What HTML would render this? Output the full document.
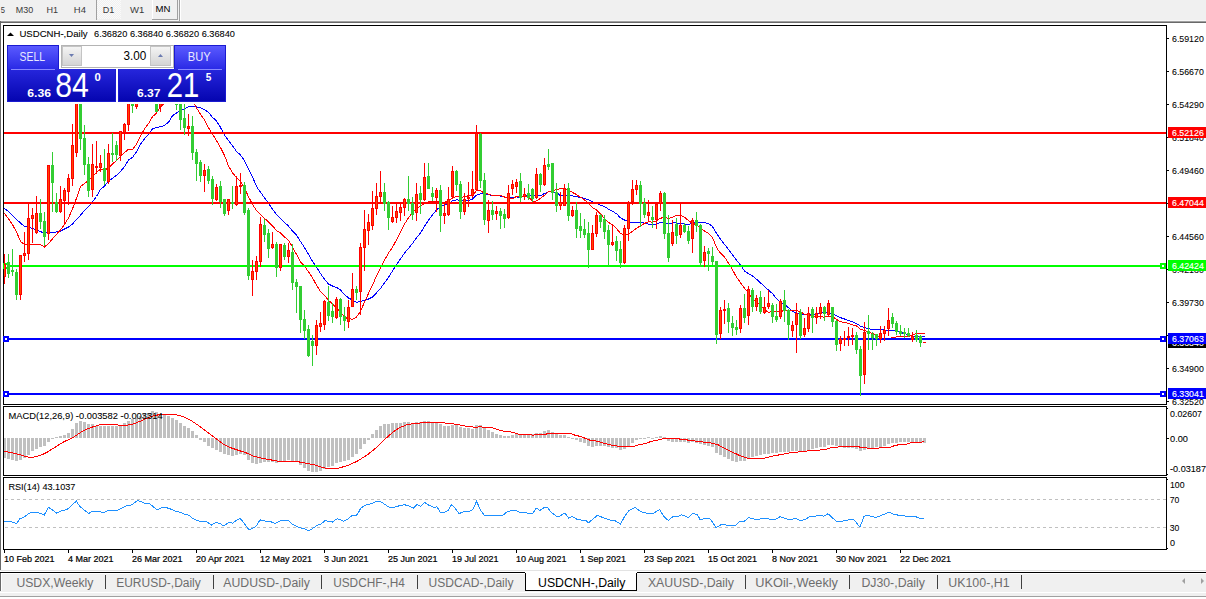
<!DOCTYPE html><html><head><meta charset="utf-8"><title>USDCNH-,Daily</title><style>html,body{margin:0;padding:0;background:#fff;width:1206px;height:599px;overflow:hidden;position:relative}</style></head><body><svg width="1206" height="599" viewBox="0 0 1206 599" style="position:absolute;left:0;top:0" font-family='"Liberation Sans", Arial, sans-serif'>
<g shape-rendering="crispEdges">
<rect x="0" y="0" width="1206" height="21" fill="#f0f0f0"/>
<rect x="0" y="20" width="1206" height="1" fill="#f7f7f7"/>
<rect x="0" y="21" width="1206" height="1" fill="#a0a0a0"/>
<rect x="0" y="22" width="1206" height="1" fill="#696969"/>
<rect x="0" y="23" width="1206" height="547" fill="#ffffff"/>
<rect x="0" y="21" width="1" height="549" fill="#696969"/>
<rect x="0" y="570" width="1206" height="1" fill="#e3e3e3"/>
<rect x="0" y="571" width="1206" height="1" fill="#ffffff"/>
<rect x="0" y="572" width="1206" height="1" fill="#000000"/>
<rect x="0" y="573" width="1206" height="19" fill="#f0f0f0"/>
<rect x="1" y="573" width="1206" height="1" fill="#ffffff"/>
<rect x="1" y="573" width="1" height="18" fill="#ffffff"/>
<rect x="0" y="573" width="1" height="18" fill="#696969"/>
<rect x="0" y="592" width="1206" height="1" fill="#ffffff"/>
<rect x="0" y="593" width="1206" height="3" fill="#f0f0f0"/>
<rect x="0" y="596" width="1206" height="1" fill="#a0a0a0"/>
<rect x="0" y="597" width="1206" height="2" fill="#ffffff"/>
</g>
<g shape-rendering="crispEdges">
<defs><pattern id="dith" width="2" height="2" patternUnits="userSpaceOnUse"><rect width="2" height="2" fill="#f0f0f0"/><rect width="1" height="1" fill="#fafafa"/><rect x="1" y="1" width="1" height="1" fill="#fafafa"/></pattern></defs>
<rect x="96" y="0" width="1" height="20" fill="#a0a0a0"/>
<rect x="97" y="0" width="24" height="19" fill="url(#dith)"/>
<rect x="152" y="0" width="1" height="19" fill="#ffffff"/>
<rect x="152" y="19" width="26" height="1" fill="#a0a0a0"/>
<rect x="177" y="0" width="1" height="20" fill="#a0a0a0"/>
<rect x="179" y="0" width="1" height="21" fill="#a0a0a0"/>
<rect x="180" y="0" width="1" height="21" fill="#ffffff"/>
</g>
<text x="0.8" y="13.1" font-size="9.6" fill="#3a3a3a" textLength="4.2" lengthAdjust="spacingAndGlyphs">5</text>
<text x="15.8" y="13.1" font-size="9.6" fill="#3a3a3a" textLength="17.4" lengthAdjust="spacingAndGlyphs">M30</text>
<text x="46.4" y="13.1" font-size="9.6" fill="#3a3a3a" textLength="11.6" lengthAdjust="spacingAndGlyphs">H1</text>
<text x="73.8" y="13.1" font-size="9.6" fill="#3a3a3a" textLength="12.1" lengthAdjust="spacingAndGlyphs">H4</text>
<text x="102.8" y="13.1" font-size="9.6" fill="#3a3a3a" textLength="11.6" lengthAdjust="spacingAndGlyphs">D1</text>
<text x="130" y="13.1" font-size="9.6" fill="#3a3a3a" textLength="14.3" lengthAdjust="spacingAndGlyphs">W1</text>
<text x="155.6" y="12" font-size="9.6" fill="#000" textLength="14.9" lengthAdjust="spacingAndGlyphs">MN</text>
<g shape-rendering="crispEdges">
<rect x="3" y="25" width="1164" height="1" fill="#000"/>
<rect x="3" y="25" width="1" height="380" fill="#000"/>
<rect x="1166" y="25" width="1" height="380" fill="#000"/>
<rect x="3" y="404" width="1164" height="1" fill="#000"/>
<rect x="3" y="406" width="1164" height="1" fill="#000"/>
<rect x="3" y="406" width="1" height="70" fill="#000"/>
<rect x="1166" y="406" width="1" height="70" fill="#000"/>
<rect x="3" y="475" width="1164" height="1" fill="#000"/>
<rect x="3" y="477" width="1164" height="1" fill="#000"/>
<rect x="3" y="477" width="1" height="73" fill="#000"/>
<rect x="1166" y="477" width="1" height="73" fill="#000"/>
<rect x="3" y="549" width="1164" height="1" fill="#000"/>
</g>
<defs><clipPath id="cm"><rect x="4" y="26" width="1162" height="378"/></clipPath><clipPath id="cmacd"><rect x="4" y="407" width="1162" height="68"/></clipPath><clipPath id="crsi"><rect x="4" y="478" width="1162" height="71"/></clipPath></defs>
<g clip-path="url(#cm)" fill="none" stroke-width="1" shape-rendering="crispEdges">
<polyline points="4.5,208.5 8.5,211.5 12.5,215.2 16.5,219.5 20.5,223.0 24.5,226.5 28.5,227.2 32.5,228.4 36.5,230.1 40.5,231.7 44.5,233.0 48.5,232.8 52.5,232.6 56.5,232.0 60.5,231.0 64.5,229.0 68.5,227.0 72.5,223.9 76.5,219.6 80.5,215.2 84.5,210.5 88.5,206.5 92.5,201.8 96.5,196.5 100.5,189.5 104.5,186.0 108.5,181.2 112.5,178.2 116.5,175.3 120.5,171.4 124.5,166.7 128.5,160.1 132.5,157.4 136.5,151.9 140.5,144.2 144.5,138.9 148.5,134.2 152.5,129.0 156.5,127.3 160.5,126.9 164.5,125.3 168.5,122.4 172.5,115.8 176.5,113.0 180.5,110.8 184.5,109.1 188.5,106.5 192.5,106.5 196.5,106.9 200.5,107.9 204.5,109.7 208.5,112.4 212.5,117.3 216.5,121.0 220.5,127.4 224.5,135.2 228.5,140.5 232.5,145.8 236.5,151.4 240.5,155.0 244.5,160.6 248.5,168.7 252.5,176.7 256.5,186.6 260.5,192.3 264.5,197.7 268.5,203.5 272.5,209.1 276.5,214.6 280.5,218.5 284.5,222.3 288.5,226.1 292.5,231.0 296.5,235.2 300.5,241.5 304.5,247.6 308.5,254.4 312.5,261.3 316.5,267.1 320.5,273.6 324.5,279.2 328.5,284.1 332.5,286.0 336.5,287.4 340.5,290.0 344.5,294.5 348.5,298.0 352.5,300.0 356.5,302.3 360.5,301.3 364.5,300.6 368.5,299.0 372.5,297.0 376.5,292.9 380.5,288.4 384.5,282.9 388.5,277.5 392.5,270.9 396.5,264.5 400.5,258.9 404.5,253.0 408.5,248.4 412.5,243.5 416.5,237.7 420.5,233.0 424.5,226.4 428.5,220.1 432.5,214.8 436.5,210.1 440.5,206.4 444.5,204.8 448.5,203.4 452.5,200.9 456.5,199.8 460.5,200.5 464.5,200.8 468.5,200.5 472.5,199.2 476.5,195.2 480.5,193.7 484.5,194.3 488.5,194.8 492.5,195.4 496.5,195.2 500.5,196.2 504.5,197.1 508.5,197.9 512.5,197.7 516.5,197.0 520.5,197.4 524.5,196.4 528.5,195.6 532.5,195.5 536.5,195.7 540.5,195.7 544.5,193.5 548.5,191.9 552.5,191.7 556.5,192.5 560.5,195.7 564.5,196.1 568.5,195.9 572.5,195.9 576.5,196.6 580.5,197.5 584.5,198.4 588.5,199.9 592.5,201.8 596.5,203.3 600.5,205.1 604.5,206.7 608.5,209.1 612.5,211.3 616.5,213.7 620.5,217.9 624.5,220.0 628.5,221.8 632.5,222.9 636.5,222.6 640.5,222.5 644.5,223.1 648.5,224.2 652.5,224.4 656.5,224.1 660.5,222.5 664.5,222.6 668.5,223.7 672.5,222.9 676.5,223.0 680.5,223.5 684.5,223.9 688.5,224.4 692.5,223.2 696.5,222.4 700.5,223.0 704.5,222.5 708.5,223.7 712.5,226.5 716.5,233.4 720.5,239.3 724.5,244.4 728.5,249.5 732.5,254.9 736.5,260.2 740.5,265.1 744.5,271.0 748.5,273.7 752.5,276.0 756.5,279.2 760.5,282.8 764.5,286.7 768.5,290.1 772.5,293.7 776.5,298.5 780.5,302.1 784.5,304.4 788.5,307.8 792.5,311.2 796.5,313.7 800.5,313.7 804.5,314.6 808.5,314.8 812.5,314.6 816.5,313.9 820.5,312.9 824.5,313.1 828.5,312.5 832.5,314.0 836.5,315.8 840.5,317.7 844.5,319.0 848.5,320.4 852.5,321.9 856.5,323.5 860.5,326.2 864.5,327.6 868.5,328.7 872.5,329.4 876.5,330.0 880.5,329.8 884.5,330.0 888.5,330.2 892.5,330.5 896.5,331.3 900.5,332.4 904.5,333.6 908.5,334.7 912.5,336.3 916.5,336.3 920.5,336.3 924.5,336.3" stroke="#0000ff"/>
<polyline points="4.5,213.5 8.5,218.8 12.5,224.7 16.5,231.9 20.5,241.5 24.5,244.5 28.5,244.5 32.5,244.5 36.5,244.5 40.5,244.5 44.5,247.0 48.5,243.5 52.5,238.8 56.5,234.3 60.5,230.0 64.5,224.3 68.5,218.0 72.5,209.0 76.5,198.2 80.5,186.5 84.5,183.5 88.5,180.5 92.5,176.5 96.5,172.5 100.5,169.0 104.5,170.1 108.5,168.0 112.5,163.9 116.5,160.7 120.5,156.5 124.5,152.6 128.5,149.2 132.5,149.5 136.5,144.4 140.5,136.2 144.5,128.8 148.5,123.6 152.5,116.7 156.5,113.0 160.5,106.9 164.5,103.4 168.5,99.8 172.5,92.5 176.5,90.7 180.5,90.3 184.5,92.5 188.5,93.8 192.5,99.9 196.5,108.0 200.5,114.2 204.5,119.9 208.5,127.8 212.5,134.1 216.5,140.7 220.5,147.6 224.5,155.4 228.5,165.9 232.5,172.9 236.5,177.6 240.5,181.8 244.5,187.9 248.5,196.7 252.5,204.4 256.5,210.6 260.5,214.4 264.5,218.3 268.5,221.9 272.5,225.9 276.5,230.6 280.5,232.9 284.5,236.9 288.5,240.3 292.5,247.1 296.5,254.4 300.5,262.0 304.5,265.9 308.5,271.9 312.5,277.9 316.5,285.1 320.5,291.5 324.5,295.3 328.5,300.4 332.5,303.9 336.5,307.8 340.5,312.1 344.5,317.1 348.5,318.9 352.5,319.1 356.5,317.1 360.5,311.2 364.5,302.2 368.5,293.4 372.5,285.1 376.5,276.0 380.5,268.2 384.5,260.2 388.5,253.1 392.5,247.3 396.5,239.8 400.5,231.7 404.5,224.0 408.5,217.9 412.5,212.3 416.5,208.5 420.5,206.4 424.5,203.1 428.5,201.7 432.5,201.7 436.5,201.6 440.5,202.4 444.5,202.1 448.5,200.9 452.5,198.0 456.5,196.4 460.5,197.2 464.5,196.9 468.5,195.7 472.5,195.4 476.5,190.6 480.5,190.9 484.5,193.1 488.5,194.1 492.5,195.8 496.5,195.5 500.5,195.6 504.5,197.0 508.5,198.6 512.5,198.6 516.5,196.5 520.5,196.4 524.5,196.1 528.5,196.7 532.5,201.4 536.5,200.9 540.5,198.4 544.5,195.2 548.5,191.8 552.5,190.4 556.5,189.7 560.5,188.6 564.5,188.2 568.5,190.4 572.5,192.4 576.5,194.6 580.5,197.2 584.5,199.9 588.5,203.5 592.5,207.7 596.5,209.9 600.5,213.9 604.5,218.6 608.5,222.3 612.5,224.9 616.5,228.4 620.5,233.6 624.5,234.6 628.5,234.1 632.5,231.3 636.5,228.1 640.5,225.9 644.5,223.4 648.5,221.9 652.5,222.1 656.5,220.9 660.5,218.2 664.5,217.4 668.5,218.5 672.5,217.2 676.5,215.3 680.5,215.1 684.5,217.1 688.5,220.7 692.5,223.2 696.5,224.8 700.5,228.2 704.5,231.1 708.5,233.5 712.5,237.6 716.5,247.6 720.5,253.1 724.5,256.9 728.5,263.2 732.5,269.8 736.5,277.2 740.5,282.7 744.5,288.2 748.5,293.1 752.5,298.9 756.5,301.5 760.5,305.7 764.5,309.6 768.5,312.6 772.5,311.3 776.5,311.9 780.5,311.4 784.5,310.6 788.5,310.4 792.5,310.1 796.5,310.4 800.5,311.7 804.5,314.5 808.5,315.0 812.5,316.4 816.5,316.5 820.5,316.5 824.5,317.2 828.5,316.3 832.5,316.4 836.5,319.5 840.5,321.6 844.5,322.6 848.5,323.4 852.5,324.9 856.5,325.9 860.5,329.3 864.5,330.6 868.5,331.8 872.5,333.5 876.5,335.7 880.5,337.1 884.5,339.1 888.5,339.0 892.5,337.5 896.5,336.9 900.5,336.6 904.5,336.4 908.5,336.4 912.5,335.4 916.5,333.3 920.5,333.3 924.5,333.3" stroke="#ff0000"/>
</g>
<g clip-path="url(#cm)" shape-rendering="crispEdges">
<rect x="4" y="132" width="1162" height="2" fill="#ff0000"/>
<rect x="4" y="202" width="1162" height="2" fill="#ff0000"/>
<rect x="4" y="265" width="1162" height="2" fill="#00ff00"/>
<rect x="4" y="338" width="1162" height="2" fill="#0000ff"/>
<rect x="4" y="393" width="1162" height="2" fill="#0000ff"/>
</g>
<g shape-rendering="crispEdges">
<rect x="3" y="263" width="6" height="6" fill="#00ff00"/>
<rect x="5" y="265" width="2" height="2" fill="#ffffff"/>
<rect x="1160" y="263" width="6" height="6" fill="#00ff00"/>
<rect x="1162" y="265" width="2" height="2" fill="#ffffff"/>
<rect x="3" y="336" width="6" height="6" fill="#0000ff"/>
<rect x="5" y="338" width="2" height="2" fill="#ffffff"/>
<rect x="1160" y="336" width="6" height="6" fill="#0000ff"/>
<rect x="1162" y="338" width="2" height="2" fill="#ffffff"/>
<rect x="3" y="391" width="6" height="6" fill="#0000ff"/>
<rect x="5" y="393" width="2" height="2" fill="#ffffff"/>
<rect x="1160" y="391" width="6" height="6" fill="#0000ff"/>
<rect x="1162" y="393" width="2" height="2" fill="#ffffff"/>
</g>
<g clip-path="url(#cm)" shape-rendering="crispEdges">
<rect x="4" y="254" width="1" height="30" fill="#ff0000"/>
<rect x="3" y="264" width="3" height="13" fill="#ff0000"/>
<rect x="4" y="265" width="1" height="11" fill="#ff4500"/>
<rect x="8" y="254" width="1" height="24" fill="#32cd32"/>
<rect x="7" y="262" width="3" height="12" fill="#32cd32"/>
<rect x="12" y="249" width="1" height="27" fill="#32cd32"/>
<rect x="11" y="270" width="3" height="2" fill="#32cd32"/>
<rect x="16" y="269" width="1" height="31" fill="#32cd32"/>
<rect x="15" y="272" width="3" height="23" fill="#32cd32"/>
<rect x="20" y="255" width="1" height="45" fill="#ff0000"/>
<rect x="19" y="255" width="3" height="40" fill="#ff0000"/>
<rect x="20" y="256" width="1" height="38" fill="#ff4500"/>
<rect x="24" y="232" width="1" height="30" fill="#ff0000"/>
<rect x="23" y="253" width="3" height="3" fill="#ff0000"/>
<rect x="24" y="254" width="1" height="1" fill="#ff4500"/>
<rect x="28" y="203" width="1" height="57" fill="#ff0000"/>
<rect x="27" y="218" width="3" height="36" fill="#ff0000"/>
<rect x="28" y="219" width="1" height="34" fill="#ff4500"/>
<rect x="32" y="208" width="1" height="35" fill="#ff0000"/>
<rect x="31" y="215" width="3" height="4" fill="#ff0000"/>
<rect x="32" y="216" width="1" height="2" fill="#ff4500"/>
<rect x="36" y="196" width="1" height="38" fill="#ff0000"/>
<rect x="35" y="213" width="3" height="20" fill="#ff0000"/>
<rect x="36" y="214" width="1" height="18" fill="#ff4500"/>
<rect x="40" y="199" width="1" height="30" fill="#32cd32"/>
<rect x="39" y="213" width="3" height="9" fill="#32cd32"/>
<rect x="44" y="212" width="1" height="34" fill="#32cd32"/>
<rect x="43" y="221" width="3" height="16" fill="#32cd32"/>
<rect x="48" y="165" width="1" height="75" fill="#ff0000"/>
<rect x="47" y="165" width="3" height="69" fill="#ff0000"/>
<rect x="48" y="166" width="1" height="67" fill="#ff4500"/>
<rect x="52" y="152" width="1" height="60" fill="#32cd32"/>
<rect x="51" y="165" width="3" height="18" fill="#32cd32"/>
<rect x="56" y="193" width="1" height="20" fill="#32cd32"/>
<rect x="55" y="202" width="3" height="10" fill="#32cd32"/>
<rect x="60" y="186" width="1" height="27" fill="#ff0000"/>
<rect x="59" y="199" width="3" height="13" fill="#ff0000"/>
<rect x="60" y="200" width="1" height="11" fill="#ff4500"/>
<rect x="64" y="188" width="1" height="35" fill="#ff0000"/>
<rect x="63" y="190" width="3" height="11" fill="#ff0000"/>
<rect x="64" y="191" width="1" height="9" fill="#ff4500"/>
<rect x="68" y="174" width="1" height="31" fill="#ff0000"/>
<rect x="67" y="178" width="3" height="14" fill="#ff0000"/>
<rect x="68" y="179" width="1" height="12" fill="#ff4500"/>
<rect x="72" y="124" width="1" height="62" fill="#ff0000"/>
<rect x="71" y="145" width="3" height="34" fill="#ff0000"/>
<rect x="72" y="146" width="1" height="32" fill="#ff4500"/>
<rect x="76" y="90" width="1" height="67" fill="#ff0000"/>
<rect x="75" y="100" width="3" height="53" fill="#ff0000"/>
<rect x="76" y="101" width="1" height="51" fill="#ff4500"/>
<rect x="80" y="80" width="1" height="70" fill="#32cd32"/>
<rect x="79" y="95" width="3" height="44" fill="#32cd32"/>
<rect x="84" y="125" width="1" height="50" fill="#32cd32"/>
<rect x="83" y="138" width="3" height="27" fill="#32cd32"/>
<rect x="88" y="157" width="1" height="40" fill="#32cd32"/>
<rect x="87" y="164" width="3" height="27" fill="#32cd32"/>
<rect x="92" y="144" width="1" height="53" fill="#ff0000"/>
<rect x="91" y="164" width="3" height="26" fill="#ff0000"/>
<rect x="92" y="165" width="1" height="24" fill="#ff4500"/>
<rect x="96" y="141" width="1" height="33" fill="#ff0000"/>
<rect x="95" y="166" width="3" height="2" fill="#ff0000"/>
<rect x="100" y="155" width="1" height="17" fill="#ff0000"/>
<rect x="99" y="163" width="3" height="5" fill="#ff0000"/>
<rect x="100" y="164" width="1" height="3" fill="#ff4500"/>
<rect x="104" y="149" width="1" height="36" fill="#32cd32"/>
<rect x="103" y="168" width="3" height="13" fill="#32cd32"/>
<rect x="108" y="144" width="1" height="40" fill="#ff0000"/>
<rect x="107" y="153" width="3" height="29" fill="#ff0000"/>
<rect x="108" y="154" width="1" height="27" fill="#ff4500"/>
<rect x="112" y="133" width="1" height="29" fill="#32cd32"/>
<rect x="111" y="153" width="3" height="2" fill="#32cd32"/>
<rect x="116" y="141" width="1" height="20" fill="#32cd32"/>
<rect x="115" y="145" width="3" height="10" fill="#32cd32"/>
<rect x="120" y="131" width="1" height="30" fill="#ff0000"/>
<rect x="119" y="131" width="3" height="25" fill="#ff0000"/>
<rect x="120" y="132" width="1" height="23" fill="#ff4500"/>
<rect x="124" y="123" width="1" height="17" fill="#ff0000"/>
<rect x="123" y="124" width="3" height="9" fill="#ff0000"/>
<rect x="124" y="125" width="1" height="7" fill="#ff4500"/>
<rect x="128" y="80" width="1" height="51" fill="#ff0000"/>
<rect x="127" y="95" width="3" height="30" fill="#ff0000"/>
<rect x="128" y="96" width="1" height="28" fill="#ff4500"/>
<rect x="132" y="70" width="1" height="43" fill="#32cd32"/>
<rect x="131" y="80" width="3" height="26" fill="#32cd32"/>
<rect x="136" y="75" width="1" height="34" fill="#ff0000"/>
<rect x="135" y="85" width="3" height="22" fill="#ff0000"/>
<rect x="136" y="86" width="1" height="20" fill="#ff4500"/>
<rect x="140" y="60" width="1" height="41" fill="#32cd32"/>
<rect x="139" y="70" width="3" height="26" fill="#32cd32"/>
<rect x="144" y="60" width="1" height="39" fill="#ff0000"/>
<rect x="143" y="75" width="3" height="16" fill="#ff0000"/>
<rect x="144" y="76" width="1" height="14" fill="#ff4500"/>
<rect x="148" y="55" width="1" height="41" fill="#32cd32"/>
<rect x="147" y="65" width="3" height="21" fill="#32cd32"/>
<rect x="152" y="55" width="1" height="36" fill="#ff0000"/>
<rect x="151" y="60" width="3" height="21" fill="#ff0000"/>
<rect x="152" y="61" width="1" height="19" fill="#ff4500"/>
<rect x="156" y="60" width="1" height="52" fill="#32cd32"/>
<rect x="155" y="70" width="3" height="42" fill="#32cd32"/>
<rect x="160" y="70" width="1" height="42" fill="#ff0000"/>
<rect x="159" y="85" width="3" height="22" fill="#ff0000"/>
<rect x="160" y="86" width="1" height="20" fill="#ff4500"/>
<rect x="164" y="60" width="1" height="39" fill="#ff0000"/>
<rect x="163" y="70" width="3" height="21" fill="#ff0000"/>
<rect x="164" y="71" width="1" height="19" fill="#ff4500"/>
<rect x="168" y="60" width="1" height="36" fill="#32cd32"/>
<rect x="167" y="75" width="3" height="11" fill="#32cd32"/>
<rect x="172" y="55" width="1" height="41" fill="#ff0000"/>
<rect x="171" y="70" width="3" height="16" fill="#ff0000"/>
<rect x="172" y="71" width="1" height="14" fill="#ff4500"/>
<rect x="176" y="60" width="1" height="50" fill="#32cd32"/>
<rect x="175" y="80" width="3" height="25" fill="#32cd32"/>
<rect x="180" y="70" width="1" height="60" fill="#32cd32"/>
<rect x="179" y="90" width="3" height="30" fill="#32cd32"/>
<rect x="184" y="100" width="1" height="35" fill="#32cd32"/>
<rect x="183" y="118" width="3" height="10" fill="#32cd32"/>
<rect x="188" y="114" width="1" height="22" fill="#ff0000"/>
<rect x="187" y="126" width="3" height="3" fill="#ff0000"/>
<rect x="188" y="127" width="1" height="1" fill="#ff4500"/>
<rect x="192" y="116" width="1" height="44" fill="#32cd32"/>
<rect x="191" y="126" width="3" height="27" fill="#32cd32"/>
<rect x="196" y="149" width="1" height="32" fill="#32cd32"/>
<rect x="195" y="152" width="3" height="12" fill="#32cd32"/>
<rect x="200" y="160" width="1" height="22" fill="#32cd32"/>
<rect x="199" y="162" width="3" height="14" fill="#32cd32"/>
<rect x="204" y="164" width="1" height="28" fill="#ff0000"/>
<rect x="203" y="170" width="3" height="6" fill="#ff0000"/>
<rect x="204" y="171" width="1" height="4" fill="#ff4500"/>
<rect x="208" y="166" width="1" height="18" fill="#32cd32"/>
<rect x="207" y="169" width="3" height="12" fill="#32cd32"/>
<rect x="212" y="176" width="1" height="29" fill="#32cd32"/>
<rect x="211" y="179" width="3" height="20" fill="#32cd32"/>
<rect x="216" y="184" width="1" height="17" fill="#ff0000"/>
<rect x="215" y="187" width="3" height="13" fill="#ff0000"/>
<rect x="216" y="188" width="1" height="11" fill="#ff4500"/>
<rect x="220" y="181" width="1" height="27" fill="#32cd32"/>
<rect x="219" y="186" width="3" height="16" fill="#32cd32"/>
<rect x="224" y="199" width="1" height="17" fill="#32cd32"/>
<rect x="223" y="199" width="3" height="15" fill="#32cd32"/>
<rect x="228" y="199" width="1" height="16" fill="#ff0000"/>
<rect x="227" y="199" width="3" height="12" fill="#ff0000"/>
<rect x="228" y="200" width="1" height="10" fill="#ff4500"/>
<rect x="232" y="186" width="1" height="23" fill="#32cd32"/>
<rect x="231" y="202" width="3" height="2" fill="#32cd32"/>
<rect x="236" y="176" width="1" height="30" fill="#ff0000"/>
<rect x="235" y="186" width="3" height="19" fill="#ff0000"/>
<rect x="236" y="187" width="1" height="17" fill="#ff4500"/>
<rect x="240" y="173" width="1" height="21" fill="#ff0000"/>
<rect x="239" y="185" width="3" height="2" fill="#ff0000"/>
<rect x="244" y="182" width="1" height="33" fill="#32cd32"/>
<rect x="243" y="185" width="3" height="28" fill="#32cd32"/>
<rect x="248" y="208" width="1" height="72" fill="#32cd32"/>
<rect x="247" y="210" width="3" height="66" fill="#32cd32"/>
<rect x="252" y="260" width="1" height="36" fill="#ff0000"/>
<rect x="251" y="271" width="3" height="9" fill="#ff0000"/>
<rect x="252" y="272" width="1" height="7" fill="#ff4500"/>
<rect x="256" y="256" width="1" height="24" fill="#ff0000"/>
<rect x="255" y="261" width="3" height="11" fill="#ff0000"/>
<rect x="256" y="262" width="1" height="9" fill="#ff4500"/>
<rect x="260" y="217" width="1" height="50" fill="#ff0000"/>
<rect x="259" y="224" width="3" height="38" fill="#ff0000"/>
<rect x="260" y="225" width="1" height="36" fill="#ff4500"/>
<rect x="264" y="219" width="1" height="23" fill="#32cd32"/>
<rect x="263" y="225" width="3" height="10" fill="#32cd32"/>
<rect x="268" y="229" width="1" height="29" fill="#32cd32"/>
<rect x="267" y="233" width="3" height="16" fill="#32cd32"/>
<rect x="272" y="232" width="1" height="17" fill="#ff0000"/>
<rect x="271" y="244" width="3" height="4" fill="#ff0000"/>
<rect x="272" y="245" width="1" height="2" fill="#ff4500"/>
<rect x="276" y="242" width="1" height="35" fill="#32cd32"/>
<rect x="275" y="244" width="3" height="24" fill="#32cd32"/>
<rect x="280" y="244" width="1" height="27" fill="#ff0000"/>
<rect x="279" y="244" width="3" height="24" fill="#ff0000"/>
<rect x="280" y="245" width="1" height="22" fill="#ff4500"/>
<rect x="284" y="243" width="1" height="17" fill="#32cd32"/>
<rect x="283" y="245" width="3" height="12" fill="#32cd32"/>
<rect x="288" y="243" width="1" height="20" fill="#ff0000"/>
<rect x="287" y="250" width="3" height="7" fill="#ff0000"/>
<rect x="288" y="251" width="1" height="5" fill="#ff4500"/>
<rect x="292" y="244" width="1" height="46" fill="#32cd32"/>
<rect x="291" y="252" width="3" height="31" fill="#32cd32"/>
<rect x="296" y="279" width="1" height="34" fill="#32cd32"/>
<rect x="295" y="282" width="3" height="5" fill="#32cd32"/>
<rect x="300" y="286" width="1" height="47" fill="#32cd32"/>
<rect x="299" y="286" width="3" height="34" fill="#32cd32"/>
<rect x="304" y="310" width="1" height="29" fill="#32cd32"/>
<rect x="303" y="319" width="3" height="12" fill="#32cd32"/>
<rect x="308" y="325" width="1" height="32" fill="#32cd32"/>
<rect x="307" y="329" width="3" height="27" fill="#32cd32"/>
<rect x="312" y="335" width="1" height="31" fill="#32cd32"/>
<rect x="311" y="341" width="3" height="5" fill="#32cd32"/>
<rect x="316" y="320" width="1" height="35" fill="#ff0000"/>
<rect x="315" y="325" width="3" height="21" fill="#ff0000"/>
<rect x="316" y="326" width="1" height="19" fill="#ff4500"/>
<rect x="320" y="312" width="1" height="20" fill="#ff0000"/>
<rect x="319" y="323" width="3" height="4" fill="#ff0000"/>
<rect x="320" y="324" width="1" height="2" fill="#ff4500"/>
<rect x="324" y="300" width="1" height="30" fill="#ff0000"/>
<rect x="323" y="301" width="3" height="24" fill="#ff0000"/>
<rect x="324" y="302" width="1" height="22" fill="#ff4500"/>
<rect x="328" y="286" width="1" height="35" fill="#32cd32"/>
<rect x="327" y="302" width="3" height="14" fill="#32cd32"/>
<rect x="332" y="303" width="1" height="20" fill="#32cd32"/>
<rect x="331" y="311" width="3" height="6" fill="#32cd32"/>
<rect x="336" y="297" width="1" height="22" fill="#ff0000"/>
<rect x="335" y="299" width="3" height="19" fill="#ff0000"/>
<rect x="336" y="300" width="1" height="17" fill="#ff4500"/>
<rect x="340" y="298" width="1" height="27" fill="#32cd32"/>
<rect x="339" y="299" width="3" height="18" fill="#32cd32"/>
<rect x="344" y="307" width="1" height="24" fill="#32cd32"/>
<rect x="343" y="316" width="3" height="5" fill="#32cd32"/>
<rect x="348" y="300" width="1" height="28" fill="#ff0000"/>
<rect x="347" y="307" width="3" height="15" fill="#ff0000"/>
<rect x="348" y="308" width="1" height="13" fill="#ff4500"/>
<rect x="352" y="273" width="1" height="34" fill="#ff0000"/>
<rect x="351" y="289" width="3" height="18" fill="#ff0000"/>
<rect x="352" y="290" width="1" height="16" fill="#ff4500"/>
<rect x="356" y="286" width="1" height="14" fill="#32cd32"/>
<rect x="355" y="289" width="3" height="4" fill="#32cd32"/>
<rect x="360" y="243" width="1" height="72" fill="#ff0000"/>
<rect x="359" y="247" width="3" height="45" fill="#ff0000"/>
<rect x="360" y="248" width="1" height="43" fill="#ff4500"/>
<rect x="364" y="210" width="1" height="61" fill="#ff0000"/>
<rect x="363" y="229" width="3" height="19" fill="#ff0000"/>
<rect x="364" y="230" width="1" height="17" fill="#ff4500"/>
<rect x="368" y="214" width="1" height="31" fill="#ff0000"/>
<rect x="367" y="222" width="3" height="9" fill="#ff0000"/>
<rect x="368" y="223" width="1" height="7" fill="#ff4500"/>
<rect x="372" y="191" width="1" height="39" fill="#ff0000"/>
<rect x="371" y="208" width="3" height="18" fill="#ff0000"/>
<rect x="372" y="209" width="1" height="16" fill="#ff4500"/>
<rect x="376" y="183" width="1" height="32" fill="#ff0000"/>
<rect x="375" y="196" width="3" height="13" fill="#ff0000"/>
<rect x="376" y="197" width="1" height="11" fill="#ff4500"/>
<rect x="380" y="171" width="1" height="32" fill="#ff0000"/>
<rect x="379" y="192" width="3" height="5" fill="#ff0000"/>
<rect x="380" y="193" width="1" height="3" fill="#ff4500"/>
<rect x="384" y="183" width="1" height="28" fill="#32cd32"/>
<rect x="383" y="192" width="3" height="12" fill="#32cd32"/>
<rect x="388" y="201" width="1" height="29" fill="#32cd32"/>
<rect x="387" y="202" width="3" height="16" fill="#32cd32"/>
<rect x="392" y="206" width="1" height="17" fill="#ff0000"/>
<rect x="391" y="217" width="3" height="5" fill="#ff0000"/>
<rect x="392" y="218" width="1" height="3" fill="#ff4500"/>
<rect x="396" y="204" width="1" height="19" fill="#ff0000"/>
<rect x="395" y="211" width="3" height="7" fill="#ff0000"/>
<rect x="396" y="212" width="1" height="5" fill="#ff4500"/>
<rect x="400" y="204" width="1" height="17" fill="#ff0000"/>
<rect x="399" y="207" width="3" height="6" fill="#ff0000"/>
<rect x="400" y="208" width="1" height="4" fill="#ff4500"/>
<rect x="404" y="198" width="1" height="18" fill="#ff0000"/>
<rect x="403" y="199" width="3" height="9" fill="#ff0000"/>
<rect x="404" y="200" width="1" height="7" fill="#ff4500"/>
<rect x="408" y="176" width="1" height="35" fill="#32cd32"/>
<rect x="407" y="199" width="3" height="5" fill="#32cd32"/>
<rect x="412" y="197" width="1" height="23" fill="#32cd32"/>
<rect x="411" y="203" width="3" height="12" fill="#32cd32"/>
<rect x="416" y="183" width="1" height="38" fill="#ff0000"/>
<rect x="415" y="194" width="3" height="19" fill="#ff0000"/>
<rect x="416" y="195" width="1" height="17" fill="#ff4500"/>
<rect x="420" y="186" width="1" height="28" fill="#32cd32"/>
<rect x="419" y="193" width="3" height="7" fill="#32cd32"/>
<rect x="424" y="163" width="1" height="38" fill="#ff0000"/>
<rect x="423" y="177" width="3" height="23" fill="#ff0000"/>
<rect x="424" y="178" width="1" height="21" fill="#ff4500"/>
<rect x="428" y="163" width="1" height="26" fill="#32cd32"/>
<rect x="427" y="176" width="3" height="13" fill="#32cd32"/>
<rect x="432" y="187" width="1" height="14" fill="#32cd32"/>
<rect x="431" y="193" width="3" height="4" fill="#32cd32"/>
<rect x="436" y="188" width="1" height="24" fill="#ff0000"/>
<rect x="435" y="190" width="3" height="8" fill="#ff0000"/>
<rect x="436" y="191" width="1" height="6" fill="#ff4500"/>
<rect x="440" y="185" width="1" height="47" fill="#32cd32"/>
<rect x="439" y="190" width="3" height="26" fill="#32cd32"/>
<rect x="444" y="204" width="1" height="20" fill="#ff0000"/>
<rect x="443" y="213" width="3" height="3" fill="#ff0000"/>
<rect x="444" y="214" width="1" height="1" fill="#ff4500"/>
<rect x="448" y="187" width="1" height="29" fill="#ff0000"/>
<rect x="447" y="199" width="3" height="16" fill="#ff0000"/>
<rect x="448" y="200" width="1" height="14" fill="#ff4500"/>
<rect x="452" y="166" width="1" height="32" fill="#ff0000"/>
<rect x="451" y="171" width="3" height="26" fill="#ff0000"/>
<rect x="452" y="172" width="1" height="24" fill="#ff4500"/>
<rect x="456" y="170" width="1" height="21" fill="#32cd32"/>
<rect x="455" y="171" width="3" height="14" fill="#32cd32"/>
<rect x="460" y="181" width="1" height="38" fill="#32cd32"/>
<rect x="459" y="184" width="3" height="28" fill="#32cd32"/>
<rect x="464" y="193" width="1" height="22" fill="#ff0000"/>
<rect x="463" y="199" width="3" height="13" fill="#ff0000"/>
<rect x="464" y="200" width="1" height="11" fill="#ff4500"/>
<rect x="468" y="182" width="1" height="25" fill="#ff0000"/>
<rect x="467" y="197" width="3" height="2" fill="#ff0000"/>
<rect x="472" y="171" width="1" height="27" fill="#ff0000"/>
<rect x="471" y="189" width="3" height="7" fill="#ff0000"/>
<rect x="472" y="190" width="1" height="5" fill="#ff4500"/>
<rect x="476" y="125" width="1" height="66" fill="#ff0000"/>
<rect x="475" y="133" width="3" height="57" fill="#ff0000"/>
<rect x="476" y="134" width="1" height="55" fill="#ff4500"/>
<rect x="480" y="133" width="1" height="55" fill="#32cd32"/>
<rect x="479" y="134" width="3" height="47" fill="#32cd32"/>
<rect x="484" y="173" width="1" height="52" fill="#32cd32"/>
<rect x="483" y="180" width="3" height="40" fill="#32cd32"/>
<rect x="488" y="200" width="1" height="33" fill="#ff0000"/>
<rect x="487" y="210" width="3" height="11" fill="#ff0000"/>
<rect x="488" y="211" width="1" height="9" fill="#ff4500"/>
<rect x="492" y="201" width="1" height="19" fill="#32cd32"/>
<rect x="491" y="210" width="3" height="5" fill="#32cd32"/>
<rect x="496" y="206" width="1" height="14" fill="#ff0000"/>
<rect x="495" y="211" width="3" height="3" fill="#ff0000"/>
<rect x="496" y="212" width="1" height="1" fill="#ff4500"/>
<rect x="500" y="208" width="1" height="21" fill="#32cd32"/>
<rect x="499" y="211" width="3" height="5" fill="#32cd32"/>
<rect x="504" y="209" width="1" height="19" fill="#32cd32"/>
<rect x="503" y="214" width="3" height="5" fill="#32cd32"/>
<rect x="508" y="185" width="1" height="34" fill="#ff0000"/>
<rect x="507" y="193" width="3" height="25" fill="#ff0000"/>
<rect x="508" y="194" width="1" height="23" fill="#ff4500"/>
<rect x="512" y="180" width="1" height="15" fill="#ff0000"/>
<rect x="511" y="184" width="3" height="5" fill="#ff0000"/>
<rect x="512" y="185" width="1" height="3" fill="#ff4500"/>
<rect x="516" y="179" width="1" height="14" fill="#ff0000"/>
<rect x="515" y="182" width="3" height="5" fill="#ff0000"/>
<rect x="516" y="183" width="1" height="3" fill="#ff4500"/>
<rect x="520" y="173" width="1" height="29" fill="#32cd32"/>
<rect x="519" y="181" width="3" height="17" fill="#32cd32"/>
<rect x="524" y="188" width="1" height="12" fill="#ff0000"/>
<rect x="523" y="194" width="3" height="3" fill="#ff0000"/>
<rect x="524" y="195" width="1" height="1" fill="#ff4500"/>
<rect x="528" y="184" width="1" height="16" fill="#32cd32"/>
<rect x="527" y="193" width="3" height="5" fill="#32cd32"/>
<rect x="532" y="188" width="1" height="14" fill="#32cd32"/>
<rect x="531" y="189" width="3" height="10" fill="#32cd32"/>
<rect x="536" y="168" width="1" height="31" fill="#ff0000"/>
<rect x="535" y="174" width="3" height="24" fill="#ff0000"/>
<rect x="536" y="175" width="1" height="22" fill="#ff4500"/>
<rect x="540" y="173" width="1" height="19" fill="#32cd32"/>
<rect x="539" y="174" width="3" height="11" fill="#32cd32"/>
<rect x="544" y="158" width="1" height="28" fill="#ff0000"/>
<rect x="543" y="165" width="3" height="20" fill="#ff0000"/>
<rect x="544" y="166" width="1" height="18" fill="#ff4500"/>
<rect x="548" y="149" width="1" height="21" fill="#32cd32"/>
<rect x="547" y="164" width="3" height="3" fill="#32cd32"/>
<rect x="552" y="163" width="1" height="37" fill="#32cd32"/>
<rect x="551" y="163" width="3" height="30" fill="#32cd32"/>
<rect x="556" y="183" width="1" height="29" fill="#32cd32"/>
<rect x="555" y="192" width="3" height="14" fill="#32cd32"/>
<rect x="560" y="192" width="1" height="18" fill="#ff0000"/>
<rect x="559" y="202" width="3" height="4" fill="#ff0000"/>
<rect x="560" y="203" width="1" height="2" fill="#ff4500"/>
<rect x="564" y="184" width="1" height="22" fill="#ff0000"/>
<rect x="563" y="188" width="3" height="18" fill="#ff0000"/>
<rect x="564" y="189" width="1" height="16" fill="#ff4500"/>
<rect x="568" y="183" width="1" height="38" fill="#32cd32"/>
<rect x="567" y="188" width="3" height="28" fill="#32cd32"/>
<rect x="572" y="206" width="1" height="11" fill="#ff0000"/>
<rect x="571" y="210" width="3" height="6" fill="#ff0000"/>
<rect x="572" y="211" width="1" height="4" fill="#ff4500"/>
<rect x="576" y="202" width="1" height="36" fill="#32cd32"/>
<rect x="575" y="210" width="3" height="19" fill="#32cd32"/>
<rect x="580" y="213" width="1" height="25" fill="#32cd32"/>
<rect x="579" y="226" width="3" height="5" fill="#32cd32"/>
<rect x="584" y="219" width="1" height="19" fill="#32cd32"/>
<rect x="583" y="229" width="3" height="6" fill="#32cd32"/>
<rect x="588" y="222" width="1" height="46" fill="#32cd32"/>
<rect x="587" y="233" width="3" height="17" fill="#32cd32"/>
<rect x="592" y="225" width="1" height="25" fill="#ff0000"/>
<rect x="591" y="233" width="3" height="17" fill="#ff0000"/>
<rect x="592" y="234" width="1" height="15" fill="#ff4500"/>
<rect x="596" y="212" width="1" height="25" fill="#ff0000"/>
<rect x="595" y="215" width="3" height="19" fill="#ff0000"/>
<rect x="596" y="216" width="1" height="17" fill="#ff4500"/>
<rect x="600" y="214" width="1" height="14" fill="#32cd32"/>
<rect x="599" y="215" width="3" height="7" fill="#32cd32"/>
<rect x="604" y="215" width="1" height="24" fill="#32cd32"/>
<rect x="603" y="219" width="3" height="13" fill="#32cd32"/>
<rect x="608" y="225" width="1" height="41" fill="#32cd32"/>
<rect x="607" y="230" width="3" height="15" fill="#32cd32"/>
<rect x="612" y="226" width="1" height="20" fill="#ff0000"/>
<rect x="611" y="242" width="3" height="3" fill="#ff0000"/>
<rect x="612" y="243" width="1" height="1" fill="#ff4500"/>
<rect x="616" y="236" width="1" height="25" fill="#32cd32"/>
<rect x="615" y="241" width="3" height="10" fill="#32cd32"/>
<rect x="620" y="241" width="1" height="27" fill="#32cd32"/>
<rect x="619" y="249" width="3" height="14" fill="#32cd32"/>
<rect x="624" y="225" width="1" height="39" fill="#ff0000"/>
<rect x="623" y="228" width="3" height="35" fill="#ff0000"/>
<rect x="624" y="229" width="1" height="33" fill="#ff4500"/>
<rect x="628" y="201" width="1" height="40" fill="#ff0000"/>
<rect x="627" y="203" width="3" height="26" fill="#ff0000"/>
<rect x="628" y="204" width="1" height="24" fill="#ff4500"/>
<rect x="632" y="180" width="1" height="25" fill="#ff0000"/>
<rect x="631" y="189" width="3" height="13" fill="#ff0000"/>
<rect x="632" y="190" width="1" height="11" fill="#ff4500"/>
<rect x="636" y="180" width="1" height="15" fill="#ff0000"/>
<rect x="635" y="185" width="3" height="5" fill="#ff0000"/>
<rect x="636" y="186" width="1" height="3" fill="#ff4500"/>
<rect x="640" y="181" width="1" height="46" fill="#32cd32"/>
<rect x="639" y="185" width="3" height="19" fill="#32cd32"/>
<rect x="644" y="198" width="1" height="20" fill="#32cd32"/>
<rect x="643" y="203" width="3" height="12" fill="#32cd32"/>
<rect x="648" y="200" width="1" height="22" fill="#ff0000"/>
<rect x="647" y="212" width="3" height="4" fill="#ff0000"/>
<rect x="648" y="213" width="1" height="2" fill="#ff4500"/>
<rect x="652" y="206" width="1" height="22" fill="#32cd32"/>
<rect x="651" y="217" width="3" height="3" fill="#32cd32"/>
<rect x="656" y="203" width="1" height="26" fill="#ff0000"/>
<rect x="655" y="204" width="3" height="16" fill="#ff0000"/>
<rect x="656" y="205" width="1" height="14" fill="#ff4500"/>
<rect x="660" y="191" width="1" height="20" fill="#ff0000"/>
<rect x="659" y="193" width="3" height="11" fill="#ff0000"/>
<rect x="660" y="194" width="1" height="9" fill="#ff4500"/>
<rect x="664" y="192" width="1" height="47" fill="#32cd32"/>
<rect x="663" y="193" width="3" height="41" fill="#32cd32"/>
<rect x="668" y="215" width="1" height="47" fill="#32cd32"/>
<rect x="667" y="233" width="3" height="25" fill="#32cd32"/>
<rect x="672" y="220" width="1" height="26" fill="#ff0000"/>
<rect x="671" y="232" width="3" height="12" fill="#ff0000"/>
<rect x="672" y="233" width="1" height="10" fill="#ff4500"/>
<rect x="676" y="218" width="1" height="26" fill="#32cd32"/>
<rect x="675" y="224" width="3" height="12" fill="#32cd32"/>
<rect x="680" y="203" width="1" height="35" fill="#ff0000"/>
<rect x="679" y="225" width="3" height="10" fill="#ff0000"/>
<rect x="680" y="226" width="1" height="8" fill="#ff4500"/>
<rect x="684" y="223" width="1" height="10" fill="#32cd32"/>
<rect x="683" y="225" width="3" height="7" fill="#32cd32"/>
<rect x="688" y="226" width="1" height="18" fill="#32cd32"/>
<rect x="687" y="231" width="3" height="10" fill="#32cd32"/>
<rect x="692" y="218" width="1" height="35" fill="#ff0000"/>
<rect x="691" y="220" width="3" height="19" fill="#ff0000"/>
<rect x="692" y="221" width="1" height="17" fill="#ff4500"/>
<rect x="696" y="212" width="1" height="20" fill="#32cd32"/>
<rect x="695" y="220" width="3" height="6" fill="#32cd32"/>
<rect x="700" y="224" width="1" height="43" fill="#32cd32"/>
<rect x="699" y="225" width="3" height="38" fill="#32cd32"/>
<rect x="704" y="246" width="1" height="21" fill="#ff0000"/>
<rect x="703" y="252" width="3" height="9" fill="#ff0000"/>
<rect x="704" y="253" width="1" height="7" fill="#ff4500"/>
<rect x="708" y="248" width="1" height="23" fill="#32cd32"/>
<rect x="707" y="251" width="3" height="3" fill="#32cd32"/>
<rect x="712" y="247" width="1" height="18" fill="#32cd32"/>
<rect x="711" y="256" width="3" height="6" fill="#32cd32"/>
<rect x="716" y="261" width="1" height="83" fill="#32cd32"/>
<rect x="715" y="261" width="3" height="74" fill="#32cd32"/>
<rect x="720" y="307" width="1" height="32" fill="#ff0000"/>
<rect x="719" y="310" width="3" height="24" fill="#ff0000"/>
<rect x="720" y="311" width="1" height="22" fill="#ff4500"/>
<rect x="724" y="300" width="1" height="24" fill="#ff0000"/>
<rect x="723" y="309" width="3" height="2" fill="#ff0000"/>
<rect x="728" y="303" width="1" height="30" fill="#32cd32"/>
<rect x="727" y="308" width="3" height="14" fill="#32cd32"/>
<rect x="732" y="316" width="1" height="20" fill="#32cd32"/>
<rect x="731" y="323" width="3" height="5" fill="#32cd32"/>
<rect x="736" y="320" width="1" height="15" fill="#32cd32"/>
<rect x="735" y="327" width="3" height="3" fill="#32cd32"/>
<rect x="740" y="305" width="1" height="28" fill="#ff0000"/>
<rect x="739" y="308" width="3" height="21" fill="#ff0000"/>
<rect x="740" y="309" width="1" height="19" fill="#ff4500"/>
<rect x="744" y="294" width="1" height="29" fill="#32cd32"/>
<rect x="743" y="308" width="3" height="10" fill="#32cd32"/>
<rect x="748" y="286" width="1" height="39" fill="#ff0000"/>
<rect x="747" y="289" width="3" height="27" fill="#ff0000"/>
<rect x="748" y="290" width="1" height="25" fill="#ff4500"/>
<rect x="752" y="288" width="1" height="24" fill="#32cd32"/>
<rect x="751" y="290" width="3" height="17" fill="#32cd32"/>
<rect x="756" y="295" width="1" height="16" fill="#ff0000"/>
<rect x="755" y="298" width="3" height="9" fill="#ff0000"/>
<rect x="756" y="299" width="1" height="7" fill="#ff4500"/>
<rect x="760" y="291" width="1" height="23" fill="#32cd32"/>
<rect x="759" y="297" width="3" height="15" fill="#32cd32"/>
<rect x="764" y="297" width="1" height="17" fill="#ff0000"/>
<rect x="763" y="307" width="3" height="6" fill="#ff0000"/>
<rect x="764" y="308" width="1" height="4" fill="#ff4500"/>
<rect x="768" y="290" width="1" height="19" fill="#ff0000"/>
<rect x="767" y="303" width="3" height="4" fill="#ff0000"/>
<rect x="768" y="304" width="1" height="2" fill="#ff4500"/>
<rect x="772" y="303" width="1" height="20" fill="#32cd32"/>
<rect x="771" y="305" width="3" height="12" fill="#32cd32"/>
<rect x="776" y="304" width="1" height="18" fill="#32cd32"/>
<rect x="775" y="316" width="3" height="4" fill="#32cd32"/>
<rect x="780" y="299" width="1" height="20" fill="#ff0000"/>
<rect x="779" y="301" width="3" height="16" fill="#ff0000"/>
<rect x="780" y="302" width="1" height="14" fill="#ff4500"/>
<rect x="784" y="290" width="1" height="32" fill="#32cd32"/>
<rect x="783" y="300" width="3" height="11" fill="#32cd32"/>
<rect x="788" y="309" width="1" height="31" fill="#32cd32"/>
<rect x="787" y="310" width="3" height="15" fill="#32cd32"/>
<rect x="792" y="321" width="1" height="16" fill="#ff0000"/>
<rect x="791" y="325" width="3" height="6" fill="#ff0000"/>
<rect x="792" y="326" width="1" height="4" fill="#ff4500"/>
<rect x="796" y="303" width="1" height="50" fill="#ff0000"/>
<rect x="795" y="313" width="3" height="12" fill="#ff0000"/>
<rect x="796" y="314" width="1" height="10" fill="#ff4500"/>
<rect x="800" y="309" width="1" height="30" fill="#32cd32"/>
<rect x="799" y="312" width="3" height="24" fill="#32cd32"/>
<rect x="804" y="318" width="1" height="19" fill="#ff0000"/>
<rect x="803" y="328" width="3" height="7" fill="#ff0000"/>
<rect x="804" y="329" width="1" height="5" fill="#ff4500"/>
<rect x="808" y="307" width="1" height="25" fill="#ff0000"/>
<rect x="807" y="313" width="3" height="16" fill="#ff0000"/>
<rect x="808" y="314" width="1" height="14" fill="#ff4500"/>
<rect x="812" y="307" width="1" height="26" fill="#32cd32"/>
<rect x="811" y="309" width="3" height="9" fill="#32cd32"/>
<rect x="816" y="307" width="1" height="17" fill="#ff0000"/>
<rect x="815" y="313" width="3" height="5" fill="#ff0000"/>
<rect x="816" y="314" width="1" height="3" fill="#ff4500"/>
<rect x="820" y="303" width="1" height="16" fill="#ff0000"/>
<rect x="819" y="307" width="3" height="7" fill="#ff0000"/>
<rect x="820" y="308" width="1" height="5" fill="#ff4500"/>
<rect x="824" y="306" width="1" height="15" fill="#32cd32"/>
<rect x="823" y="307" width="3" height="7" fill="#32cd32"/>
<rect x="828" y="300" width="1" height="16" fill="#ff0000"/>
<rect x="827" y="303" width="3" height="12" fill="#ff0000"/>
<rect x="828" y="304" width="1" height="10" fill="#ff4500"/>
<rect x="832" y="307" width="1" height="20" fill="#32cd32"/>
<rect x="831" y="307" width="3" height="15" fill="#32cd32"/>
<rect x="836" y="320" width="1" height="31" fill="#32cd32"/>
<rect x="835" y="321" width="3" height="24" fill="#32cd32"/>
<rect x="840" y="336" width="1" height="15" fill="#ff0000"/>
<rect x="839" y="339" width="3" height="5" fill="#ff0000"/>
<rect x="840" y="340" width="1" height="3" fill="#ff4500"/>
<rect x="844" y="331" width="1" height="15" fill="#ff0000"/>
<rect x="843" y="338" width="3" height="2" fill="#ff0000"/>
<rect x="848" y="327" width="1" height="19" fill="#ff0000"/>
<rect x="847" y="336" width="3" height="2" fill="#ff0000"/>
<rect x="852" y="328" width="1" height="17" fill="#ff0000"/>
<rect x="851" y="335" width="3" height="2" fill="#ff0000"/>
<rect x="856" y="332" width="1" height="22" fill="#32cd32"/>
<rect x="855" y="335" width="3" height="15" fill="#32cd32"/>
<rect x="860" y="346" width="1" height="50" fill="#32cd32"/>
<rect x="859" y="349" width="3" height="27" fill="#32cd32"/>
<rect x="864" y="322" width="1" height="62" fill="#ff0000"/>
<rect x="863" y="332" width="3" height="43" fill="#ff0000"/>
<rect x="864" y="333" width="1" height="41" fill="#ff4500"/>
<rect x="868" y="315" width="1" height="35" fill="#32cd32"/>
<rect x="867" y="331" width="3" height="3" fill="#32cd32"/>
<rect x="872" y="332" width="1" height="18" fill="#32cd32"/>
<rect x="871" y="334" width="3" height="4" fill="#32cd32"/>
<rect x="876" y="334" width="1" height="12" fill="#32cd32"/>
<rect x="875" y="334" width="3" height="5" fill="#32cd32"/>
<rect x="880" y="326" width="1" height="17" fill="#ff0000"/>
<rect x="879" y="333" width="3" height="6" fill="#ff0000"/>
<rect x="880" y="334" width="1" height="4" fill="#ff4500"/>
<rect x="884" y="326" width="1" height="15" fill="#ff0000"/>
<rect x="883" y="330" width="3" height="4" fill="#ff0000"/>
<rect x="884" y="331" width="1" height="2" fill="#ff4500"/>
<rect x="888" y="308" width="1" height="28" fill="#ff0000"/>
<rect x="887" y="320" width="3" height="9" fill="#ff0000"/>
<rect x="888" y="321" width="1" height="7" fill="#ff4500"/>
<rect x="892" y="313" width="1" height="15" fill="#32cd32"/>
<rect x="891" y="317" width="3" height="7" fill="#32cd32"/>
<rect x="896" y="321" width="1" height="14" fill="#32cd32"/>
<rect x="895" y="323" width="3" height="9" fill="#32cd32"/>
<rect x="900" y="325" width="1" height="11" fill="#32cd32"/>
<rect x="899" y="331" width="3" height="3" fill="#32cd32"/>
<rect x="904" y="328" width="1" height="10" fill="#32cd32"/>
<rect x="903" y="332" width="3" height="2" fill="#32cd32"/>
<rect x="908" y="328" width="1" height="9" fill="#32cd32"/>
<rect x="907" y="333" width="3" height="3" fill="#32cd32"/>
<rect x="912" y="332" width="1" height="10" fill="#ff0000"/>
<rect x="911" y="336" width="3" height="4" fill="#ff0000"/>
<rect x="912" y="337" width="1" height="2" fill="#ff4500"/>
<rect x="916" y="330" width="1" height="12" fill="#32cd32"/>
<rect x="915" y="335" width="3" height="5" fill="#32cd32"/>
<rect x="920" y="335" width="1" height="12" fill="#32cd32"/>
<rect x="919" y="336" width="3" height="7" fill="#32cd32"/>
<rect x="923" y="342" width="3" height="1" fill="#ff0000"/>
</g>
<polygon points="7,36 14,36 10.5,32.5" fill="#000"/>
<text x="19.4" y="36.8" font-size="9.6" fill="#000" textLength="68.2" lengthAdjust="spacingAndGlyphs" stroke="#000" stroke-width="0.08">USDCNH-,Daily</text>
<text x="94" y="36.8" font-size="9.6" fill="#000" textLength="141" lengthAdjust="spacingAndGlyphs" stroke="#000" stroke-width="0.08">6.36820 6.36840 6.36820 6.36840</text>
<defs><linearGradient id="gbtn" x1="0" y1="0" x2="0" y2="1"><stop offset="0" stop-color="#5a5aff"/><stop offset="1" stop-color="#2a2ae6"/></linearGradient><linearGradient id="gprc" x1="0" y1="0" x2="0" y2="1"><stop offset="0" stop-color="#2626dc"/><stop offset="1" stop-color="#0505b0"/></linearGradient><linearGradient id="gspin" x1="0" y1="0" x2="0" y2="1"><stop offset="0" stop-color="#f4f4f4"/><stop offset="1" stop-color="#d4d4d4"/></linearGradient></defs>
<g shape-rendering="crispEdges">
<rect x="7" y="45" width="219" height="59" fill="#ffffff"/>
<rect x="7" y="45" width="52" height="24" fill="#1a1ad0"/>
<rect x="8" y="46" width="50" height="23" fill="url(#gbtn)"/>
<rect x="7" y="69" width="109" height="33" fill="#1a1ad0"/>
<rect x="8" y="69" width="107" height="32" fill="url(#gprc)"/>
<rect x="11" y="69" width="44" height="1" fill="#8888ff"/>
<rect x="174" y="45" width="52" height="24" fill="#1a1ad0"/>
<rect x="175" y="46" width="50" height="23" fill="url(#gbtn)"/>
<rect x="118" y="69" width="108" height="33" fill="#1a1ad0"/>
<rect x="119" y="69" width="106" height="32" fill="url(#gprc)"/>
<rect x="178" y="69" width="44" height="1" fill="#8888ff"/>
<rect x="59" y="45" width="115" height="24" fill="#ffffff"/>
<rect x="61" y="45" width="113" height="1" fill="#b4b4b4"/>
<rect x="61" y="45" width="1" height="22" fill="#b4b4b4"/>
<rect x="61" y="67" width="113" height="1" fill="#b4b4b4"/>
<rect x="173" y="45" width="1" height="23" fill="#b4b4b4"/>
<rect x="62" y="46" width="20" height="20" fill="#c4c4c4"/>
<rect x="63" y="47" width="18" height="18" fill="url(#gspin)"/>
<rect x="150" y="46" width="21" height="20" fill="#c4c4c4"/>
<rect x="151" y="47" width="19" height="18" fill="url(#gspin)"/>
</g>
<polygon points="69,54 74,54 71.5,57" fill="#6b7bb0"/>
<polygon points="158,57 163,57 160.5,54" fill="#6b7bb0"/>
<text x="19.6" y="61" font-size="12" fill="#e8e8ff" textLength="25.4" lengthAdjust="spacingAndGlyphs">SELL</text>
<text x="187.7" y="61" font-size="12" fill="#e8e8ff" textLength="23" lengthAdjust="spacingAndGlyphs">BUY</text>
<text x="146.2" y="60" font-size="12" fill="#000" textLength="22.8" lengthAdjust="spacingAndGlyphs" text-anchor="end">3.00</text>
<text x="27.2" y="96.7" font-size="11.5" fill="#ffffff" font-weight="bold" textLength="23.8" lengthAdjust="spacingAndGlyphs">6.36</text>
<text x="55.2" y="97" font-size="34.5" fill="#ffffff" textLength="33.6" lengthAdjust="spacingAndGlyphs">84</text>
<text x="94.4" y="81" font-size="11" fill="#ffffff" font-weight="bold" textLength="6.3" lengthAdjust="spacingAndGlyphs">0</text>
<text x="137" y="96.7" font-size="11.5" fill="#ffffff" font-weight="bold" textLength="23.5" lengthAdjust="spacingAndGlyphs">6.37</text>
<text x="166.8" y="97" font-size="34.5" fill="#ffffff" textLength="32.6" lengthAdjust="spacingAndGlyphs">21</text>
<text x="205.8" y="81" font-size="11" fill="#ffffff" font-weight="bold" textLength="5.6" lengthAdjust="spacingAndGlyphs">5</text>
<g shape-rendering="crispEdges">
<rect x="1167" y="38" width="2" height="1" fill="#000"/>
<rect x="1167" y="71" width="2" height="1" fill="#000"/>
<rect x="1167" y="104" width="2" height="1" fill="#000"/>
<rect x="1167" y="137" width="2" height="1" fill="#000"/>
<rect x="1167" y="170" width="2" height="1" fill="#000"/>
<rect x="1167" y="203" width="2" height="1" fill="#000"/>
<rect x="1167" y="236" width="2" height="1" fill="#000"/>
<rect x="1167" y="269" width="2" height="1" fill="#000"/>
<rect x="1167" y="302" width="2" height="1" fill="#000"/>
<rect x="1167" y="335" width="2" height="1" fill="#000"/>
<rect x="1167" y="368" width="2" height="1" fill="#000"/>
<rect x="1167" y="401" width="2" height="1" fill="#000"/>
</g>
<text x="1172" y="41.8" font-size="9.4" fill="#000" textLength="31.8" lengthAdjust="spacingAndGlyphs" stroke="#000" stroke-width="0.08">6.59120</text>
<text x="1172" y="74.8" font-size="9.4" fill="#000" textLength="31.8" lengthAdjust="spacingAndGlyphs" stroke="#000" stroke-width="0.08">6.56670</text>
<text x="1172" y="107.8" font-size="9.4" fill="#000" textLength="31.8" lengthAdjust="spacingAndGlyphs" stroke="#000" stroke-width="0.08">6.54290</text>
<text x="1172" y="140.8" font-size="9.4" fill="#000" textLength="31.8" lengthAdjust="spacingAndGlyphs" stroke="#000" stroke-width="0.08">6.51840</text>
<text x="1172" y="173.8" font-size="9.4" fill="#000" textLength="31.8" lengthAdjust="spacingAndGlyphs" stroke="#000" stroke-width="0.08">6.49460</text>
<text x="1172" y="206.8" font-size="9.4" fill="#000" textLength="31.8" lengthAdjust="spacingAndGlyphs" stroke="#000" stroke-width="0.08">6.47010</text>
<text x="1172" y="239.8" font-size="9.4" fill="#000" textLength="31.8" lengthAdjust="spacingAndGlyphs" stroke="#000" stroke-width="0.08">6.44560</text>
<text x="1172" y="272.8" font-size="9.4" fill="#000" textLength="31.8" lengthAdjust="spacingAndGlyphs" stroke="#000" stroke-width="0.08">6.42180</text>
<text x="1172" y="305.8" font-size="9.4" fill="#000" textLength="31.8" lengthAdjust="spacingAndGlyphs" stroke="#000" stroke-width="0.08">6.39730</text>
<text x="1172" y="338.8" font-size="9.4" fill="#000" textLength="31.8" lengthAdjust="spacingAndGlyphs" stroke="#000" stroke-width="0.08">6.37350</text>
<text x="1172" y="371.8" font-size="9.4" fill="#000" textLength="31.8" lengthAdjust="spacingAndGlyphs" stroke="#000" stroke-width="0.08">6.34900</text>
<text x="1172" y="404.8" font-size="9.4" fill="#000" textLength="31.8" lengthAdjust="spacingAndGlyphs" stroke="#000" stroke-width="0.08">6.32520</text>
<rect x="1168" y="337" width="38" height="11" fill="#000000" shape-rendering="crispEdges"/>
<text x="1172" y="345.9" font-size="9.4" fill="#fff" textLength="31.8" lengthAdjust="spacingAndGlyphs" stroke="#fff" stroke-width="0.15">6.36840</text>
<rect x="1168" y="127" width="38" height="11" fill="#ff0000" shape-rendering="crispEdges"/>
<text x="1172" y="135.9" font-size="9.4" fill="#fff" textLength="31.8" lengthAdjust="spacingAndGlyphs" stroke="#fff" stroke-width="0.15">6.52126</text>
<rect x="1168" y="197" width="38" height="11" fill="#ff0000" shape-rendering="crispEdges"/>
<text x="1172" y="205.9" font-size="9.4" fill="#fff" textLength="31.8" lengthAdjust="spacingAndGlyphs" stroke="#fff" stroke-width="0.15">6.47044</text>
<rect x="1168" y="260" width="38" height="11" fill="#00ff00" shape-rendering="crispEdges"/>
<text x="1172" y="268.9" font-size="9.4" fill="#fff" textLength="31.8" lengthAdjust="spacingAndGlyphs" stroke="#fff" stroke-width="0.15">6.42424</text>
<rect x="1168" y="333" width="38" height="11" fill="#0000ff" shape-rendering="crispEdges"/>
<text x="1172" y="341.9" font-size="9.4" fill="#fff" textLength="31.8" lengthAdjust="spacingAndGlyphs" stroke="#fff" stroke-width="0.15">6.37063</text>
<rect x="1168" y="388" width="38" height="11" fill="#0000ff" shape-rendering="crispEdges"/>
<text x="1172" y="396.9" font-size="9.4" fill="#fff" textLength="31.8" lengthAdjust="spacingAndGlyphs" stroke="#fff" stroke-width="0.15">6.33041</text>
<g clip-path="url(#cmacd)" shape-rendering="crispEdges">
<rect x="3" y="438" width="3" height="20" fill="#c0c0c0"/>
<rect x="7" y="438" width="3" height="21" fill="#c0c0c0"/>
<rect x="11" y="438" width="3" height="22" fill="#c0c0c0"/>
<rect x="15" y="438" width="3" height="23" fill="#c0c0c0"/>
<rect x="19" y="438" width="3" height="22" fill="#c0c0c0"/>
<rect x="23" y="438" width="3" height="20" fill="#c0c0c0"/>
<rect x="27" y="438" width="3" height="17" fill="#c0c0c0"/>
<rect x="31" y="438" width="3" height="13" fill="#c0c0c0"/>
<rect x="35" y="438" width="3" height="11" fill="#c0c0c0"/>
<rect x="39" y="438" width="3" height="9" fill="#c0c0c0"/>
<rect x="43" y="438" width="3" height="8" fill="#c0c0c0"/>
<rect x="47" y="438" width="3" height="4" fill="#c0c0c0"/>
<rect x="51" y="438" width="3" height="1" fill="#c0c0c0"/>
<rect x="55" y="437" width="3" height="1" fill="#c0c0c0"/>
<rect x="59" y="436" width="3" height="2" fill="#c0c0c0"/>
<rect x="63" y="435" width="3" height="3" fill="#c0c0c0"/>
<rect x="67" y="433" width="3" height="5" fill="#c0c0c0"/>
<rect x="71" y="429" width="3" height="9" fill="#c0c0c0"/>
<rect x="75" y="423" width="3" height="15" fill="#c0c0c0"/>
<rect x="79" y="421" width="3" height="17" fill="#c0c0c0"/>
<rect x="83" y="422" width="3" height="16" fill="#c0c0c0"/>
<rect x="87" y="424" width="3" height="14" fill="#c0c0c0"/>
<rect x="91" y="424" width="3" height="14" fill="#c0c0c0"/>
<rect x="95" y="426" width="3" height="12" fill="#c0c0c0"/>
<rect x="99" y="426" width="3" height="12" fill="#c0c0c0"/>
<rect x="103" y="426" width="3" height="12" fill="#c0c0c0"/>
<rect x="107" y="426" width="3" height="12" fill="#c0c0c0"/>
<rect x="111" y="426" width="3" height="12" fill="#c0c0c0"/>
<rect x="115" y="426" width="3" height="12" fill="#c0c0c0"/>
<rect x="119" y="425" width="3" height="13" fill="#c0c0c0"/>
<rect x="123" y="423" width="3" height="15" fill="#c0c0c0"/>
<rect x="127" y="421" width="3" height="17" fill="#c0c0c0"/>
<rect x="131" y="419" width="3" height="19" fill="#c0c0c0"/>
<rect x="135" y="418" width="3" height="20" fill="#c0c0c0"/>
<rect x="139" y="416" width="3" height="22" fill="#c0c0c0"/>
<rect x="143" y="414" width="3" height="24" fill="#c0c0c0"/>
<rect x="147" y="413" width="3" height="25" fill="#c0c0c0"/>
<rect x="151" y="411" width="3" height="27" fill="#c0c0c0"/>
<rect x="155" y="412" width="3" height="26" fill="#c0c0c0"/>
<rect x="159" y="414" width="3" height="24" fill="#c0c0c0"/>
<rect x="163" y="415" width="3" height="23" fill="#c0c0c0"/>
<rect x="167" y="416" width="3" height="22" fill="#c0c0c0"/>
<rect x="171" y="418" width="3" height="20" fill="#c0c0c0"/>
<rect x="175" y="420" width="3" height="18" fill="#c0c0c0"/>
<rect x="179" y="423" width="3" height="15" fill="#c0c0c0"/>
<rect x="183" y="426" width="3" height="12" fill="#c0c0c0"/>
<rect x="187" y="428" width="3" height="10" fill="#c0c0c0"/>
<rect x="191" y="431" width="3" height="7" fill="#c0c0c0"/>
<rect x="195" y="435" width="3" height="3" fill="#c0c0c0"/>
<rect x="199" y="438" width="3" height="2" fill="#c0c0c0"/>
<rect x="203" y="438" width="3" height="4" fill="#c0c0c0"/>
<rect x="207" y="438" width="3" height="8" fill="#c0c0c0"/>
<rect x="211" y="438" width="3" height="10" fill="#c0c0c0"/>
<rect x="215" y="438" width="3" height="12" fill="#c0c0c0"/>
<rect x="219" y="438" width="3" height="14" fill="#c0c0c0"/>
<rect x="223" y="438" width="3" height="16" fill="#c0c0c0"/>
<rect x="227" y="438" width="3" height="17" fill="#c0c0c0"/>
<rect x="231" y="438" width="3" height="18" fill="#c0c0c0"/>
<rect x="235" y="438" width="3" height="17" fill="#c0c0c0"/>
<rect x="239" y="438" width="3" height="16" fill="#c0c0c0"/>
<rect x="243" y="438" width="3" height="17" fill="#c0c0c0"/>
<rect x="247" y="438" width="3" height="22" fill="#c0c0c0"/>
<rect x="251" y="438" width="3" height="25" fill="#c0c0c0"/>
<rect x="255" y="438" width="3" height="26" fill="#c0c0c0"/>
<rect x="259" y="438" width="3" height="25" fill="#c0c0c0"/>
<rect x="263" y="438" width="3" height="24" fill="#c0c0c0"/>
<rect x="267" y="438" width="3" height="24" fill="#c0c0c0"/>
<rect x="271" y="438" width="3" height="24" fill="#c0c0c0"/>
<rect x="275" y="438" width="3" height="25" fill="#c0c0c0"/>
<rect x="279" y="438" width="3" height="23" fill="#c0c0c0"/>
<rect x="283" y="438" width="3" height="23" fill="#c0c0c0"/>
<rect x="287" y="438" width="3" height="22" fill="#c0c0c0"/>
<rect x="291" y="438" width="3" height="23" fill="#c0c0c0"/>
<rect x="295" y="438" width="3" height="23" fill="#c0c0c0"/>
<rect x="299" y="438" width="3" height="27" fill="#c0c0c0"/>
<rect x="303" y="438" width="3" height="30" fill="#c0c0c0"/>
<rect x="307" y="438" width="3" height="33" fill="#c0c0c0"/>
<rect x="311" y="438" width="3" height="34" fill="#c0c0c0"/>
<rect x="315" y="438" width="3" height="34" fill="#c0c0c0"/>
<rect x="319" y="438" width="3" height="33" fill="#c0c0c0"/>
<rect x="323" y="438" width="3" height="31" fill="#c0c0c0"/>
<rect x="327" y="438" width="3" height="29" fill="#c0c0c0"/>
<rect x="331" y="438" width="3" height="28" fill="#c0c0c0"/>
<rect x="335" y="438" width="3" height="25" fill="#c0c0c0"/>
<rect x="339" y="438" width="3" height="24" fill="#c0c0c0"/>
<rect x="343" y="438" width="3" height="23" fill="#c0c0c0"/>
<rect x="347" y="438" width="3" height="22" fill="#c0c0c0"/>
<rect x="351" y="438" width="3" height="19" fill="#c0c0c0"/>
<rect x="355" y="438" width="3" height="16" fill="#c0c0c0"/>
<rect x="359" y="438" width="3" height="11" fill="#c0c0c0"/>
<rect x="363" y="438" width="3" height="6" fill="#c0c0c0"/>
<rect x="367" y="438" width="3" height="2" fill="#c0c0c0"/>
<rect x="371" y="434" width="3" height="4" fill="#c0c0c0"/>
<rect x="375" y="430" width="3" height="8" fill="#c0c0c0"/>
<rect x="379" y="426" width="3" height="12" fill="#c0c0c0"/>
<rect x="383" y="424" width="3" height="14" fill="#c0c0c0"/>
<rect x="387" y="424" width="3" height="14" fill="#c0c0c0"/>
<rect x="391" y="423" width="3" height="15" fill="#c0c0c0"/>
<rect x="395" y="423" width="3" height="15" fill="#c0c0c0"/>
<rect x="399" y="423" width="3" height="15" fill="#c0c0c0"/>
<rect x="403" y="422" width="3" height="16" fill="#c0c0c0"/>
<rect x="407" y="422" width="3" height="16" fill="#c0c0c0"/>
<rect x="411" y="423" width="3" height="15" fill="#c0c0c0"/>
<rect x="415" y="422" width="3" height="16" fill="#c0c0c0"/>
<rect x="419" y="422" width="3" height="16" fill="#c0c0c0"/>
<rect x="423" y="421" width="3" height="17" fill="#c0c0c0"/>
<rect x="427" y="421" width="3" height="17" fill="#c0c0c0"/>
<rect x="431" y="422" width="3" height="16" fill="#c0c0c0"/>
<rect x="435" y="422" width="3" height="16" fill="#c0c0c0"/>
<rect x="439" y="424" width="3" height="14" fill="#c0c0c0"/>
<rect x="443" y="426" width="3" height="12" fill="#c0c0c0"/>
<rect x="447" y="426" width="3" height="12" fill="#c0c0c0"/>
<rect x="451" y="425" width="3" height="13" fill="#c0c0c0"/>
<rect x="455" y="425" width="3" height="13" fill="#c0c0c0"/>
<rect x="459" y="427" width="3" height="11" fill="#c0c0c0"/>
<rect x="463" y="428" width="3" height="10" fill="#c0c0c0"/>
<rect x="467" y="428" width="3" height="10" fill="#c0c0c0"/>
<rect x="471" y="429" width="3" height="9" fill="#c0c0c0"/>
<rect x="475" y="425" width="3" height="13" fill="#c0c0c0"/>
<rect x="479" y="425" width="3" height="13" fill="#c0c0c0"/>
<rect x="483" y="428" width="3" height="10" fill="#c0c0c0"/>
<rect x="487" y="430" width="3" height="8" fill="#c0c0c0"/>
<rect x="491" y="432" width="3" height="6" fill="#c0c0c0"/>
<rect x="495" y="434" width="3" height="4" fill="#c0c0c0"/>
<rect x="499" y="435" width="3" height="3" fill="#c0c0c0"/>
<rect x="503" y="436" width="3" height="2" fill="#c0c0c0"/>
<rect x="507" y="436" width="3" height="2" fill="#c0c0c0"/>
<rect x="511" y="435" width="3" height="3" fill="#c0c0c0"/>
<rect x="515" y="434" width="3" height="4" fill="#c0c0c0"/>
<rect x="519" y="434" width="3" height="4" fill="#c0c0c0"/>
<rect x="523" y="435" width="3" height="3" fill="#c0c0c0"/>
<rect x="527" y="435" width="3" height="3" fill="#c0c0c0"/>
<rect x="531" y="434" width="3" height="4" fill="#c0c0c0"/>
<rect x="535" y="433" width="3" height="5" fill="#c0c0c0"/>
<rect x="539" y="433" width="3" height="5" fill="#c0c0c0"/>
<rect x="543" y="431" width="3" height="7" fill="#c0c0c0"/>
<rect x="547" y="430" width="3" height="8" fill="#c0c0c0"/>
<rect x="551" y="432" width="3" height="6" fill="#c0c0c0"/>
<rect x="555" y="434" width="3" height="4" fill="#c0c0c0"/>
<rect x="559" y="435" width="3" height="3" fill="#c0c0c0"/>
<rect x="563" y="435" width="3" height="3" fill="#c0c0c0"/>
<rect x="567" y="437" width="3" height="1" fill="#c0c0c0"/>
<rect x="571" y="438" width="3" height="1" fill="#c0c0c0"/>
<rect x="575" y="438" width="3" height="2" fill="#c0c0c0"/>
<rect x="579" y="438" width="3" height="4" fill="#c0c0c0"/>
<rect x="583" y="438" width="3" height="5" fill="#c0c0c0"/>
<rect x="587" y="438" width="3" height="8" fill="#c0c0c0"/>
<rect x="591" y="438" width="3" height="9" fill="#c0c0c0"/>
<rect x="595" y="438" width="3" height="8" fill="#c0c0c0"/>
<rect x="599" y="438" width="3" height="8" fill="#c0c0c0"/>
<rect x="603" y="438" width="3" height="8" fill="#c0c0c0"/>
<rect x="607" y="438" width="3" height="9" fill="#c0c0c0"/>
<rect x="611" y="438" width="3" height="10" fill="#c0c0c0"/>
<rect x="615" y="438" width="3" height="10" fill="#c0c0c0"/>
<rect x="619" y="438" width="3" height="12" fill="#c0c0c0"/>
<rect x="623" y="438" width="3" height="11" fill="#c0c0c0"/>
<rect x="627" y="438" width="3" height="8" fill="#c0c0c0"/>
<rect x="631" y="438" width="3" height="5" fill="#c0c0c0"/>
<rect x="635" y="438" width="3" height="2" fill="#c0c0c0"/>
<rect x="639" y="438" width="3" height="1" fill="#c0c0c0"/>
<rect x="643" y="438" width="3" height="1" fill="#c0c0c0"/>
<rect x="647" y="437" width="3" height="1" fill="#c0c0c0"/>
<rect x="651" y="438" width="3" height="1" fill="#c0c0c0"/>
<rect x="655" y="437" width="3" height="1" fill="#c0c0c0"/>
<rect x="659" y="436" width="3" height="2" fill="#c0c0c0"/>
<rect x="663" y="437" width="3" height="1" fill="#c0c0c0"/>
<rect x="667" y="438" width="3" height="3" fill="#c0c0c0"/>
<rect x="671" y="438" width="3" height="4" fill="#c0c0c0"/>
<rect x="675" y="438" width="3" height="4" fill="#c0c0c0"/>
<rect x="679" y="438" width="3" height="4" fill="#c0c0c0"/>
<rect x="683" y="438" width="3" height="4" fill="#c0c0c0"/>
<rect x="687" y="438" width="3" height="5" fill="#c0c0c0"/>
<rect x="691" y="438" width="3" height="4" fill="#c0c0c0"/>
<rect x="695" y="438" width="3" height="5" fill="#c0c0c0"/>
<rect x="699" y="438" width="3" height="6" fill="#c0c0c0"/>
<rect x="703" y="438" width="3" height="7" fill="#c0c0c0"/>
<rect x="707" y="438" width="3" height="8" fill="#c0c0c0"/>
<rect x="711" y="438" width="3" height="9" fill="#c0c0c0"/>
<rect x="715" y="438" width="3" height="15" fill="#c0c0c0"/>
<rect x="719" y="438" width="3" height="17" fill="#c0c0c0"/>
<rect x="723" y="438" width="3" height="19" fill="#c0c0c0"/>
<rect x="727" y="438" width="3" height="21" fill="#c0c0c0"/>
<rect x="731" y="438" width="3" height="23" fill="#c0c0c0"/>
<rect x="735" y="438" width="3" height="24" fill="#c0c0c0"/>
<rect x="739" y="438" width="3" height="23" fill="#c0c0c0"/>
<rect x="743" y="438" width="3" height="23" fill="#c0c0c0"/>
<rect x="747" y="438" width="3" height="20" fill="#c0c0c0"/>
<rect x="751" y="438" width="3" height="19" fill="#c0c0c0"/>
<rect x="755" y="438" width="3" height="18" fill="#c0c0c0"/>
<rect x="759" y="438" width="3" height="17" fill="#c0c0c0"/>
<rect x="763" y="438" width="3" height="16" fill="#c0c0c0"/>
<rect x="767" y="438" width="3" height="16" fill="#c0c0c0"/>
<rect x="771" y="438" width="3" height="15" fill="#c0c0c0"/>
<rect x="775" y="438" width="3" height="15" fill="#c0c0c0"/>
<rect x="779" y="438" width="3" height="14" fill="#c0c0c0"/>
<rect x="783" y="438" width="3" height="14" fill="#c0c0c0"/>
<rect x="787" y="438" width="3" height="14" fill="#c0c0c0"/>
<rect x="791" y="438" width="3" height="13" fill="#c0c0c0"/>
<rect x="795" y="438" width="3" height="13" fill="#c0c0c0"/>
<rect x="799" y="438" width="3" height="13" fill="#c0c0c0"/>
<rect x="803" y="438" width="3" height="13" fill="#c0c0c0"/>
<rect x="807" y="438" width="3" height="12" fill="#c0c0c0"/>
<rect x="811" y="438" width="3" height="11" fill="#c0c0c0"/>
<rect x="815" y="438" width="3" height="10" fill="#c0c0c0"/>
<rect x="819" y="438" width="3" height="9" fill="#c0c0c0"/>
<rect x="823" y="438" width="3" height="9" fill="#c0c0c0"/>
<rect x="827" y="438" width="3" height="7" fill="#c0c0c0"/>
<rect x="831" y="438" width="3" height="7" fill="#c0c0c0"/>
<rect x="835" y="438" width="3" height="8" fill="#c0c0c0"/>
<rect x="839" y="438" width="3" height="9" fill="#c0c0c0"/>
<rect x="843" y="438" width="3" height="10" fill="#c0c0c0"/>
<rect x="847" y="438" width="3" height="10" fill="#c0c0c0"/>
<rect x="851" y="438" width="3" height="10" fill="#c0c0c0"/>
<rect x="855" y="438" width="3" height="11" fill="#c0c0c0"/>
<rect x="859" y="438" width="3" height="13" fill="#c0c0c0"/>
<rect x="863" y="438" width="3" height="12" fill="#c0c0c0"/>
<rect x="867" y="438" width="3" height="10" fill="#c0c0c0"/>
<rect x="871" y="438" width="3" height="10" fill="#c0c0c0"/>
<rect x="875" y="438" width="3" height="9" fill="#c0c0c0"/>
<rect x="879" y="438" width="3" height="9" fill="#c0c0c0"/>
<rect x="883" y="438" width="3" height="8" fill="#c0c0c0"/>
<rect x="887" y="438" width="3" height="6" fill="#c0c0c0"/>
<rect x="891" y="438" width="3" height="5" fill="#c0c0c0"/>
<rect x="895" y="438" width="3" height="5" fill="#c0c0c0"/>
<rect x="899" y="438" width="3" height="4" fill="#c0c0c0"/>
<rect x="903" y="438" width="3" height="4" fill="#c0c0c0"/>
<rect x="907" y="438" width="3" height="4" fill="#c0c0c0"/>
<rect x="911" y="438" width="3" height="4" fill="#c0c0c0"/>
<rect x="915" y="438" width="3" height="4" fill="#c0c0c0"/>
<rect x="919" y="438" width="3" height="4" fill="#c0c0c0"/>
<rect x="923" y="438" width="3" height="5" fill="#c0c0c0"/>
</g>
<g clip-path="url(#cmacd)" shape-rendering="crispEdges"><polyline fill="none" stroke="#ff0000" stroke-width="1" points="4.0,451.2 11.9,452.8 19.9,454.8 27.9,457.1 33.8,457.1 41.8,454.8 47.8,451.8 55.7,446.8 63.7,441.8 71.6,438.4 75.6,435.8 83.6,430.5 91.5,427.3 99.5,424.9 107.5,424.3 115.4,424.9 123.4,425.3 129.4,424.9 135.3,423.3 143.3,419.9 151.2,416.5 159.2,414.6 167.2,414.0 175.1,414.6 183.1,416.5 191.0,420.5 199.0,425.9 207.0,431.9 214.9,437.8 222.9,443.8 230.8,447.8 246.0,452.8 253.9,456.3 263.9,458.7 277.8,461.1 297.7,461.7 303.7,462.7 313.6,464.7 323.6,467.7 329.5,468.7 337.5,468.3 347.5,465.7 357.4,461.1 367.4,454.8 377.3,446.8 385.3,438.8 393.2,431.9 399.2,427.9 407.2,424.5 417.1,423.3 425.1,422.5 441.0,422.5 447.0,423.3 456.9,424.3 466.9,426.3 476.0,427.4 480.0,426.4 483.0,427.4 491.0,427.4 494.0,428.4 499.0,430.0 503.0,431.0 511.0,432.0 516.0,433.4 519.0,434.4 531.0,434.4 533.0,435.4 536.0,434.4 546.0,434.4 547.0,433.4 570.5,433.4 575.5,435.4 580.5,436.4 585.5,438.4 590.5,440.4 596.0,440.9 600.0,442.1 604.0,443.4 609.0,444.4 612.0,445.4 620.0,446.4 634.0,446.4 636.0,445.4 641.0,444.4 646.0,443.4 651.0,441.4 656.0,440.4 661.0,439.4 664.0,438.4 679.0,438.4 680.0,439.4 687.0,439.4 688.0,440.4 694.5,440.4 695.5,441.4 702.5,441.4 703.5,442.4 710.4,442.4 711.4,443.4 712.0,443.2 718.0,444.8 723.9,447.8 731.9,451.8 739.9,455.7 747.8,458.3 763.7,458.3 771.7,456.3 781.7,454.4 791.6,452.4 801.6,451.8 811.5,450.4 816.0,450.4 826.0,449.4 831.0,447.7 838.0,447.1 839.0,446.1 858.0,446.1 860.0,447.4 866.0,447.7 868.0,448.4 878.0,448.4 880.0,447.4 890.0,447.4 892.0,446.4 898.0,444.9 906.0,444.4 910.0,442.9 912.0,442.1 921.5,442.1 924.0,441.1"/></g>
<text x="8.4" y="418.6" font-size="9.6" fill="#000" textLength="154.2" lengthAdjust="spacingAndGlyphs" stroke="#000" stroke-width="0.08">MACD(12,26,9) -0.003582 -0.003314</text>
<g shape-rendering="crispEdges">
<rect x="1167" y="438" width="2" height="1" fill="#000"/>
<rect x="1167" y="408" width="1" height="1" fill="#000"/>
<rect x="1167" y="474" width="1" height="1" fill="#000"/>
</g>
<text x="1170" y="416.8" font-size="9.4" fill="#000" textLength="32" lengthAdjust="spacingAndGlyphs" stroke="#000" stroke-width="0.08">0.02607</text>
<text x="1170" y="441.5" font-size="9.4" fill="#000" textLength="18" lengthAdjust="spacingAndGlyphs" stroke="#000" stroke-width="0.08">0.00</text>
<text x="1170" y="471.6" font-size="9.4" fill="#000" textLength="36" lengthAdjust="spacingAndGlyphs" stroke="#000" stroke-width="0.08">-0.03187</text>
<g shape-rendering="crispEdges">
<rect x="5" y="499" width="3" height="1" fill="#c0c0c0"/>
<rect x="11" y="499" width="3" height="1" fill="#c0c0c0"/>
<rect x="17" y="499" width="3" height="1" fill="#c0c0c0"/>
<rect x="23" y="499" width="3" height="1" fill="#c0c0c0"/>
<rect x="29" y="499" width="3" height="1" fill="#c0c0c0"/>
<rect x="35" y="499" width="3" height="1" fill="#c0c0c0"/>
<rect x="41" y="499" width="3" height="1" fill="#c0c0c0"/>
<rect x="47" y="499" width="3" height="1" fill="#c0c0c0"/>
<rect x="53" y="499" width="3" height="1" fill="#c0c0c0"/>
<rect x="59" y="499" width="3" height="1" fill="#c0c0c0"/>
<rect x="65" y="499" width="3" height="1" fill="#c0c0c0"/>
<rect x="71" y="499" width="3" height="1" fill="#c0c0c0"/>
<rect x="77" y="499" width="3" height="1" fill="#c0c0c0"/>
<rect x="83" y="499" width="3" height="1" fill="#c0c0c0"/>
<rect x="89" y="499" width="3" height="1" fill="#c0c0c0"/>
<rect x="95" y="499" width="3" height="1" fill="#c0c0c0"/>
<rect x="101" y="499" width="3" height="1" fill="#c0c0c0"/>
<rect x="107" y="499" width="3" height="1" fill="#c0c0c0"/>
<rect x="113" y="499" width="3" height="1" fill="#c0c0c0"/>
<rect x="119" y="499" width="3" height="1" fill="#c0c0c0"/>
<rect x="125" y="499" width="3" height="1" fill="#c0c0c0"/>
<rect x="131" y="499" width="3" height="1" fill="#c0c0c0"/>
<rect x="137" y="499" width="3" height="1" fill="#c0c0c0"/>
<rect x="143" y="499" width="3" height="1" fill="#c0c0c0"/>
<rect x="149" y="499" width="3" height="1" fill="#c0c0c0"/>
<rect x="155" y="499" width="3" height="1" fill="#c0c0c0"/>
<rect x="161" y="499" width="3" height="1" fill="#c0c0c0"/>
<rect x="167" y="499" width="3" height="1" fill="#c0c0c0"/>
<rect x="173" y="499" width="3" height="1" fill="#c0c0c0"/>
<rect x="179" y="499" width="3" height="1" fill="#c0c0c0"/>
<rect x="185" y="499" width="3" height="1" fill="#c0c0c0"/>
<rect x="191" y="499" width="3" height="1" fill="#c0c0c0"/>
<rect x="197" y="499" width="3" height="1" fill="#c0c0c0"/>
<rect x="203" y="499" width="3" height="1" fill="#c0c0c0"/>
<rect x="209" y="499" width="3" height="1" fill="#c0c0c0"/>
<rect x="215" y="499" width="3" height="1" fill="#c0c0c0"/>
<rect x="221" y="499" width="3" height="1" fill="#c0c0c0"/>
<rect x="227" y="499" width="3" height="1" fill="#c0c0c0"/>
<rect x="233" y="499" width="3" height="1" fill="#c0c0c0"/>
<rect x="239" y="499" width="3" height="1" fill="#c0c0c0"/>
<rect x="245" y="499" width="3" height="1" fill="#c0c0c0"/>
<rect x="251" y="499" width="3" height="1" fill="#c0c0c0"/>
<rect x="257" y="499" width="3" height="1" fill="#c0c0c0"/>
<rect x="263" y="499" width="3" height="1" fill="#c0c0c0"/>
<rect x="269" y="499" width="3" height="1" fill="#c0c0c0"/>
<rect x="275" y="499" width="3" height="1" fill="#c0c0c0"/>
<rect x="281" y="499" width="3" height="1" fill="#c0c0c0"/>
<rect x="287" y="499" width="3" height="1" fill="#c0c0c0"/>
<rect x="293" y="499" width="3" height="1" fill="#c0c0c0"/>
<rect x="299" y="499" width="3" height="1" fill="#c0c0c0"/>
<rect x="305" y="499" width="3" height="1" fill="#c0c0c0"/>
<rect x="311" y="499" width="3" height="1" fill="#c0c0c0"/>
<rect x="317" y="499" width="3" height="1" fill="#c0c0c0"/>
<rect x="323" y="499" width="3" height="1" fill="#c0c0c0"/>
<rect x="329" y="499" width="3" height="1" fill="#c0c0c0"/>
<rect x="335" y="499" width="3" height="1" fill="#c0c0c0"/>
<rect x="341" y="499" width="3" height="1" fill="#c0c0c0"/>
<rect x="347" y="499" width="3" height="1" fill="#c0c0c0"/>
<rect x="353" y="499" width="3" height="1" fill="#c0c0c0"/>
<rect x="359" y="499" width="3" height="1" fill="#c0c0c0"/>
<rect x="365" y="499" width="3" height="1" fill="#c0c0c0"/>
<rect x="371" y="499" width="3" height="1" fill="#c0c0c0"/>
<rect x="377" y="499" width="3" height="1" fill="#c0c0c0"/>
<rect x="383" y="499" width="3" height="1" fill="#c0c0c0"/>
<rect x="389" y="499" width="3" height="1" fill="#c0c0c0"/>
<rect x="395" y="499" width="3" height="1" fill="#c0c0c0"/>
<rect x="401" y="499" width="3" height="1" fill="#c0c0c0"/>
<rect x="407" y="499" width="3" height="1" fill="#c0c0c0"/>
<rect x="413" y="499" width="3" height="1" fill="#c0c0c0"/>
<rect x="419" y="499" width="3" height="1" fill="#c0c0c0"/>
<rect x="425" y="499" width="3" height="1" fill="#c0c0c0"/>
<rect x="431" y="499" width="3" height="1" fill="#c0c0c0"/>
<rect x="437" y="499" width="3" height="1" fill="#c0c0c0"/>
<rect x="443" y="499" width="3" height="1" fill="#c0c0c0"/>
<rect x="449" y="499" width="3" height="1" fill="#c0c0c0"/>
<rect x="455" y="499" width="3" height="1" fill="#c0c0c0"/>
<rect x="461" y="499" width="3" height="1" fill="#c0c0c0"/>
<rect x="467" y="499" width="3" height="1" fill="#c0c0c0"/>
<rect x="473" y="499" width="3" height="1" fill="#c0c0c0"/>
<rect x="479" y="499" width="3" height="1" fill="#c0c0c0"/>
<rect x="485" y="499" width="3" height="1" fill="#c0c0c0"/>
<rect x="491" y="499" width="3" height="1" fill="#c0c0c0"/>
<rect x="497" y="499" width="3" height="1" fill="#c0c0c0"/>
<rect x="503" y="499" width="3" height="1" fill="#c0c0c0"/>
<rect x="509" y="499" width="3" height="1" fill="#c0c0c0"/>
<rect x="515" y="499" width="3" height="1" fill="#c0c0c0"/>
<rect x="521" y="499" width="3" height="1" fill="#c0c0c0"/>
<rect x="527" y="499" width="3" height="1" fill="#c0c0c0"/>
<rect x="533" y="499" width="3" height="1" fill="#c0c0c0"/>
<rect x="539" y="499" width="3" height="1" fill="#c0c0c0"/>
<rect x="545" y="499" width="3" height="1" fill="#c0c0c0"/>
<rect x="551" y="499" width="3" height="1" fill="#c0c0c0"/>
<rect x="557" y="499" width="3" height="1" fill="#c0c0c0"/>
<rect x="563" y="499" width="3" height="1" fill="#c0c0c0"/>
<rect x="569" y="499" width="3" height="1" fill="#c0c0c0"/>
<rect x="575" y="499" width="3" height="1" fill="#c0c0c0"/>
<rect x="581" y="499" width="3" height="1" fill="#c0c0c0"/>
<rect x="587" y="499" width="3" height="1" fill="#c0c0c0"/>
<rect x="593" y="499" width="3" height="1" fill="#c0c0c0"/>
<rect x="599" y="499" width="3" height="1" fill="#c0c0c0"/>
<rect x="605" y="499" width="3" height="1" fill="#c0c0c0"/>
<rect x="611" y="499" width="3" height="1" fill="#c0c0c0"/>
<rect x="617" y="499" width="3" height="1" fill="#c0c0c0"/>
<rect x="623" y="499" width="3" height="1" fill="#c0c0c0"/>
<rect x="629" y="499" width="3" height="1" fill="#c0c0c0"/>
<rect x="635" y="499" width="3" height="1" fill="#c0c0c0"/>
<rect x="641" y="499" width="3" height="1" fill="#c0c0c0"/>
<rect x="647" y="499" width="3" height="1" fill="#c0c0c0"/>
<rect x="653" y="499" width="3" height="1" fill="#c0c0c0"/>
<rect x="659" y="499" width="3" height="1" fill="#c0c0c0"/>
<rect x="665" y="499" width="3" height="1" fill="#c0c0c0"/>
<rect x="671" y="499" width="3" height="1" fill="#c0c0c0"/>
<rect x="677" y="499" width="3" height="1" fill="#c0c0c0"/>
<rect x="683" y="499" width="3" height="1" fill="#c0c0c0"/>
<rect x="689" y="499" width="3" height="1" fill="#c0c0c0"/>
<rect x="695" y="499" width="3" height="1" fill="#c0c0c0"/>
<rect x="701" y="499" width="3" height="1" fill="#c0c0c0"/>
<rect x="707" y="499" width="3" height="1" fill="#c0c0c0"/>
<rect x="713" y="499" width="3" height="1" fill="#c0c0c0"/>
<rect x="719" y="499" width="3" height="1" fill="#c0c0c0"/>
<rect x="725" y="499" width="3" height="1" fill="#c0c0c0"/>
<rect x="731" y="499" width="3" height="1" fill="#c0c0c0"/>
<rect x="737" y="499" width="3" height="1" fill="#c0c0c0"/>
<rect x="743" y="499" width="3" height="1" fill="#c0c0c0"/>
<rect x="749" y="499" width="3" height="1" fill="#c0c0c0"/>
<rect x="755" y="499" width="3" height="1" fill="#c0c0c0"/>
<rect x="761" y="499" width="3" height="1" fill="#c0c0c0"/>
<rect x="767" y="499" width="3" height="1" fill="#c0c0c0"/>
<rect x="773" y="499" width="3" height="1" fill="#c0c0c0"/>
<rect x="779" y="499" width="3" height="1" fill="#c0c0c0"/>
<rect x="785" y="499" width="3" height="1" fill="#c0c0c0"/>
<rect x="791" y="499" width="3" height="1" fill="#c0c0c0"/>
<rect x="797" y="499" width="3" height="1" fill="#c0c0c0"/>
<rect x="803" y="499" width="3" height="1" fill="#c0c0c0"/>
<rect x="809" y="499" width="3" height="1" fill="#c0c0c0"/>
<rect x="815" y="499" width="3" height="1" fill="#c0c0c0"/>
<rect x="821" y="499" width="3" height="1" fill="#c0c0c0"/>
<rect x="827" y="499" width="3" height="1" fill="#c0c0c0"/>
<rect x="833" y="499" width="3" height="1" fill="#c0c0c0"/>
<rect x="839" y="499" width="3" height="1" fill="#c0c0c0"/>
<rect x="845" y="499" width="3" height="1" fill="#c0c0c0"/>
<rect x="851" y="499" width="3" height="1" fill="#c0c0c0"/>
<rect x="857" y="499" width="3" height="1" fill="#c0c0c0"/>
<rect x="863" y="499" width="3" height="1" fill="#c0c0c0"/>
<rect x="869" y="499" width="3" height="1" fill="#c0c0c0"/>
<rect x="875" y="499" width="3" height="1" fill="#c0c0c0"/>
<rect x="881" y="499" width="3" height="1" fill="#c0c0c0"/>
<rect x="887" y="499" width="3" height="1" fill="#c0c0c0"/>
<rect x="893" y="499" width="3" height="1" fill="#c0c0c0"/>
<rect x="899" y="499" width="3" height="1" fill="#c0c0c0"/>
<rect x="905" y="499" width="3" height="1" fill="#c0c0c0"/>
<rect x="911" y="499" width="3" height="1" fill="#c0c0c0"/>
<rect x="917" y="499" width="3" height="1" fill="#c0c0c0"/>
<rect x="923" y="499" width="3" height="1" fill="#c0c0c0"/>
<rect x="929" y="499" width="3" height="1" fill="#c0c0c0"/>
<rect x="935" y="499" width="3" height="1" fill="#c0c0c0"/>
<rect x="941" y="499" width="3" height="1" fill="#c0c0c0"/>
<rect x="947" y="499" width="3" height="1" fill="#c0c0c0"/>
<rect x="953" y="499" width="3" height="1" fill="#c0c0c0"/>
<rect x="959" y="499" width="3" height="1" fill="#c0c0c0"/>
<rect x="965" y="499" width="3" height="1" fill="#c0c0c0"/>
<rect x="971" y="499" width="3" height="1" fill="#c0c0c0"/>
<rect x="977" y="499" width="3" height="1" fill="#c0c0c0"/>
<rect x="983" y="499" width="3" height="1" fill="#c0c0c0"/>
<rect x="989" y="499" width="3" height="1" fill="#c0c0c0"/>
<rect x="995" y="499" width="3" height="1" fill="#c0c0c0"/>
<rect x="1001" y="499" width="3" height="1" fill="#c0c0c0"/>
<rect x="1007" y="499" width="3" height="1" fill="#c0c0c0"/>
<rect x="1013" y="499" width="3" height="1" fill="#c0c0c0"/>
<rect x="1019" y="499" width="3" height="1" fill="#c0c0c0"/>
<rect x="1025" y="499" width="3" height="1" fill="#c0c0c0"/>
<rect x="1031" y="499" width="3" height="1" fill="#c0c0c0"/>
<rect x="1037" y="499" width="3" height="1" fill="#c0c0c0"/>
<rect x="1043" y="499" width="3" height="1" fill="#c0c0c0"/>
<rect x="1049" y="499" width="3" height="1" fill="#c0c0c0"/>
<rect x="1055" y="499" width="3" height="1" fill="#c0c0c0"/>
<rect x="1061" y="499" width="3" height="1" fill="#c0c0c0"/>
<rect x="1067" y="499" width="3" height="1" fill="#c0c0c0"/>
<rect x="1073" y="499" width="3" height="1" fill="#c0c0c0"/>
<rect x="1079" y="499" width="3" height="1" fill="#c0c0c0"/>
<rect x="1085" y="499" width="3" height="1" fill="#c0c0c0"/>
<rect x="1091" y="499" width="3" height="1" fill="#c0c0c0"/>
<rect x="1097" y="499" width="3" height="1" fill="#c0c0c0"/>
<rect x="1103" y="499" width="3" height="1" fill="#c0c0c0"/>
<rect x="1109" y="499" width="3" height="1" fill="#c0c0c0"/>
<rect x="1115" y="499" width="3" height="1" fill="#c0c0c0"/>
<rect x="1121" y="499" width="3" height="1" fill="#c0c0c0"/>
<rect x="1127" y="499" width="3" height="1" fill="#c0c0c0"/>
<rect x="1133" y="499" width="3" height="1" fill="#c0c0c0"/>
<rect x="1139" y="499" width="3" height="1" fill="#c0c0c0"/>
<rect x="1145" y="499" width="3" height="1" fill="#c0c0c0"/>
<rect x="1151" y="499" width="3" height="1" fill="#c0c0c0"/>
<rect x="1157" y="499" width="3" height="1" fill="#c0c0c0"/>
<rect x="1163" y="499" width="3" height="1" fill="#c0c0c0"/>
<rect x="5" y="527" width="3" height="1" fill="#c0c0c0"/>
<rect x="11" y="527" width="3" height="1" fill="#c0c0c0"/>
<rect x="17" y="527" width="3" height="1" fill="#c0c0c0"/>
<rect x="23" y="527" width="3" height="1" fill="#c0c0c0"/>
<rect x="29" y="527" width="3" height="1" fill="#c0c0c0"/>
<rect x="35" y="527" width="3" height="1" fill="#c0c0c0"/>
<rect x="41" y="527" width="3" height="1" fill="#c0c0c0"/>
<rect x="47" y="527" width="3" height="1" fill="#c0c0c0"/>
<rect x="53" y="527" width="3" height="1" fill="#c0c0c0"/>
<rect x="59" y="527" width="3" height="1" fill="#c0c0c0"/>
<rect x="65" y="527" width="3" height="1" fill="#c0c0c0"/>
<rect x="71" y="527" width="3" height="1" fill="#c0c0c0"/>
<rect x="77" y="527" width="3" height="1" fill="#c0c0c0"/>
<rect x="83" y="527" width="3" height="1" fill="#c0c0c0"/>
<rect x="89" y="527" width="3" height="1" fill="#c0c0c0"/>
<rect x="95" y="527" width="3" height="1" fill="#c0c0c0"/>
<rect x="101" y="527" width="3" height="1" fill="#c0c0c0"/>
<rect x="107" y="527" width="3" height="1" fill="#c0c0c0"/>
<rect x="113" y="527" width="3" height="1" fill="#c0c0c0"/>
<rect x="119" y="527" width="3" height="1" fill="#c0c0c0"/>
<rect x="125" y="527" width="3" height="1" fill="#c0c0c0"/>
<rect x="131" y="527" width="3" height="1" fill="#c0c0c0"/>
<rect x="137" y="527" width="3" height="1" fill="#c0c0c0"/>
<rect x="143" y="527" width="3" height="1" fill="#c0c0c0"/>
<rect x="149" y="527" width="3" height="1" fill="#c0c0c0"/>
<rect x="155" y="527" width="3" height="1" fill="#c0c0c0"/>
<rect x="161" y="527" width="3" height="1" fill="#c0c0c0"/>
<rect x="167" y="527" width="3" height="1" fill="#c0c0c0"/>
<rect x="173" y="527" width="3" height="1" fill="#c0c0c0"/>
<rect x="179" y="527" width="3" height="1" fill="#c0c0c0"/>
<rect x="185" y="527" width="3" height="1" fill="#c0c0c0"/>
<rect x="191" y="527" width="3" height="1" fill="#c0c0c0"/>
<rect x="197" y="527" width="3" height="1" fill="#c0c0c0"/>
<rect x="203" y="527" width="3" height="1" fill="#c0c0c0"/>
<rect x="209" y="527" width="3" height="1" fill="#c0c0c0"/>
<rect x="215" y="527" width="3" height="1" fill="#c0c0c0"/>
<rect x="221" y="527" width="3" height="1" fill="#c0c0c0"/>
<rect x="227" y="527" width="3" height="1" fill="#c0c0c0"/>
<rect x="233" y="527" width="3" height="1" fill="#c0c0c0"/>
<rect x="239" y="527" width="3" height="1" fill="#c0c0c0"/>
<rect x="245" y="527" width="3" height="1" fill="#c0c0c0"/>
<rect x="251" y="527" width="3" height="1" fill="#c0c0c0"/>
<rect x="257" y="527" width="3" height="1" fill="#c0c0c0"/>
<rect x="263" y="527" width="3" height="1" fill="#c0c0c0"/>
<rect x="269" y="527" width="3" height="1" fill="#c0c0c0"/>
<rect x="275" y="527" width="3" height="1" fill="#c0c0c0"/>
<rect x="281" y="527" width="3" height="1" fill="#c0c0c0"/>
<rect x="287" y="527" width="3" height="1" fill="#c0c0c0"/>
<rect x="293" y="527" width="3" height="1" fill="#c0c0c0"/>
<rect x="299" y="527" width="3" height="1" fill="#c0c0c0"/>
<rect x="305" y="527" width="3" height="1" fill="#c0c0c0"/>
<rect x="311" y="527" width="3" height="1" fill="#c0c0c0"/>
<rect x="317" y="527" width="3" height="1" fill="#c0c0c0"/>
<rect x="323" y="527" width="3" height="1" fill="#c0c0c0"/>
<rect x="329" y="527" width="3" height="1" fill="#c0c0c0"/>
<rect x="335" y="527" width="3" height="1" fill="#c0c0c0"/>
<rect x="341" y="527" width="3" height="1" fill="#c0c0c0"/>
<rect x="347" y="527" width="3" height="1" fill="#c0c0c0"/>
<rect x="353" y="527" width="3" height="1" fill="#c0c0c0"/>
<rect x="359" y="527" width="3" height="1" fill="#c0c0c0"/>
<rect x="365" y="527" width="3" height="1" fill="#c0c0c0"/>
<rect x="371" y="527" width="3" height="1" fill="#c0c0c0"/>
<rect x="377" y="527" width="3" height="1" fill="#c0c0c0"/>
<rect x="383" y="527" width="3" height="1" fill="#c0c0c0"/>
<rect x="389" y="527" width="3" height="1" fill="#c0c0c0"/>
<rect x="395" y="527" width="3" height="1" fill="#c0c0c0"/>
<rect x="401" y="527" width="3" height="1" fill="#c0c0c0"/>
<rect x="407" y="527" width="3" height="1" fill="#c0c0c0"/>
<rect x="413" y="527" width="3" height="1" fill="#c0c0c0"/>
<rect x="419" y="527" width="3" height="1" fill="#c0c0c0"/>
<rect x="425" y="527" width="3" height="1" fill="#c0c0c0"/>
<rect x="431" y="527" width="3" height="1" fill="#c0c0c0"/>
<rect x="437" y="527" width="3" height="1" fill="#c0c0c0"/>
<rect x="443" y="527" width="3" height="1" fill="#c0c0c0"/>
<rect x="449" y="527" width="3" height="1" fill="#c0c0c0"/>
<rect x="455" y="527" width="3" height="1" fill="#c0c0c0"/>
<rect x="461" y="527" width="3" height="1" fill="#c0c0c0"/>
<rect x="467" y="527" width="3" height="1" fill="#c0c0c0"/>
<rect x="473" y="527" width="3" height="1" fill="#c0c0c0"/>
<rect x="479" y="527" width="3" height="1" fill="#c0c0c0"/>
<rect x="485" y="527" width="3" height="1" fill="#c0c0c0"/>
<rect x="491" y="527" width="3" height="1" fill="#c0c0c0"/>
<rect x="497" y="527" width="3" height="1" fill="#c0c0c0"/>
<rect x="503" y="527" width="3" height="1" fill="#c0c0c0"/>
<rect x="509" y="527" width="3" height="1" fill="#c0c0c0"/>
<rect x="515" y="527" width="3" height="1" fill="#c0c0c0"/>
<rect x="521" y="527" width="3" height="1" fill="#c0c0c0"/>
<rect x="527" y="527" width="3" height="1" fill="#c0c0c0"/>
<rect x="533" y="527" width="3" height="1" fill="#c0c0c0"/>
<rect x="539" y="527" width="3" height="1" fill="#c0c0c0"/>
<rect x="545" y="527" width="3" height="1" fill="#c0c0c0"/>
<rect x="551" y="527" width="3" height="1" fill="#c0c0c0"/>
<rect x="557" y="527" width="3" height="1" fill="#c0c0c0"/>
<rect x="563" y="527" width="3" height="1" fill="#c0c0c0"/>
<rect x="569" y="527" width="3" height="1" fill="#c0c0c0"/>
<rect x="575" y="527" width="3" height="1" fill="#c0c0c0"/>
<rect x="581" y="527" width="3" height="1" fill="#c0c0c0"/>
<rect x="587" y="527" width="3" height="1" fill="#c0c0c0"/>
<rect x="593" y="527" width="3" height="1" fill="#c0c0c0"/>
<rect x="599" y="527" width="3" height="1" fill="#c0c0c0"/>
<rect x="605" y="527" width="3" height="1" fill="#c0c0c0"/>
<rect x="611" y="527" width="3" height="1" fill="#c0c0c0"/>
<rect x="617" y="527" width="3" height="1" fill="#c0c0c0"/>
<rect x="623" y="527" width="3" height="1" fill="#c0c0c0"/>
<rect x="629" y="527" width="3" height="1" fill="#c0c0c0"/>
<rect x="635" y="527" width="3" height="1" fill="#c0c0c0"/>
<rect x="641" y="527" width="3" height="1" fill="#c0c0c0"/>
<rect x="647" y="527" width="3" height="1" fill="#c0c0c0"/>
<rect x="653" y="527" width="3" height="1" fill="#c0c0c0"/>
<rect x="659" y="527" width="3" height="1" fill="#c0c0c0"/>
<rect x="665" y="527" width="3" height="1" fill="#c0c0c0"/>
<rect x="671" y="527" width="3" height="1" fill="#c0c0c0"/>
<rect x="677" y="527" width="3" height="1" fill="#c0c0c0"/>
<rect x="683" y="527" width="3" height="1" fill="#c0c0c0"/>
<rect x="689" y="527" width="3" height="1" fill="#c0c0c0"/>
<rect x="695" y="527" width="3" height="1" fill="#c0c0c0"/>
<rect x="701" y="527" width="3" height="1" fill="#c0c0c0"/>
<rect x="707" y="527" width="3" height="1" fill="#c0c0c0"/>
<rect x="713" y="527" width="3" height="1" fill="#c0c0c0"/>
<rect x="719" y="527" width="3" height="1" fill="#c0c0c0"/>
<rect x="725" y="527" width="3" height="1" fill="#c0c0c0"/>
<rect x="731" y="527" width="3" height="1" fill="#c0c0c0"/>
<rect x="737" y="527" width="3" height="1" fill="#c0c0c0"/>
<rect x="743" y="527" width="3" height="1" fill="#c0c0c0"/>
<rect x="749" y="527" width="3" height="1" fill="#c0c0c0"/>
<rect x="755" y="527" width="3" height="1" fill="#c0c0c0"/>
<rect x="761" y="527" width="3" height="1" fill="#c0c0c0"/>
<rect x="767" y="527" width="3" height="1" fill="#c0c0c0"/>
<rect x="773" y="527" width="3" height="1" fill="#c0c0c0"/>
<rect x="779" y="527" width="3" height="1" fill="#c0c0c0"/>
<rect x="785" y="527" width="3" height="1" fill="#c0c0c0"/>
<rect x="791" y="527" width="3" height="1" fill="#c0c0c0"/>
<rect x="797" y="527" width="3" height="1" fill="#c0c0c0"/>
<rect x="803" y="527" width="3" height="1" fill="#c0c0c0"/>
<rect x="809" y="527" width="3" height="1" fill="#c0c0c0"/>
<rect x="815" y="527" width="3" height="1" fill="#c0c0c0"/>
<rect x="821" y="527" width="3" height="1" fill="#c0c0c0"/>
<rect x="827" y="527" width="3" height="1" fill="#c0c0c0"/>
<rect x="833" y="527" width="3" height="1" fill="#c0c0c0"/>
<rect x="839" y="527" width="3" height="1" fill="#c0c0c0"/>
<rect x="845" y="527" width="3" height="1" fill="#c0c0c0"/>
<rect x="851" y="527" width="3" height="1" fill="#c0c0c0"/>
<rect x="857" y="527" width="3" height="1" fill="#c0c0c0"/>
<rect x="863" y="527" width="3" height="1" fill="#c0c0c0"/>
<rect x="869" y="527" width="3" height="1" fill="#c0c0c0"/>
<rect x="875" y="527" width="3" height="1" fill="#c0c0c0"/>
<rect x="881" y="527" width="3" height="1" fill="#c0c0c0"/>
<rect x="887" y="527" width="3" height="1" fill="#c0c0c0"/>
<rect x="893" y="527" width="3" height="1" fill="#c0c0c0"/>
<rect x="899" y="527" width="3" height="1" fill="#c0c0c0"/>
<rect x="905" y="527" width="3" height="1" fill="#c0c0c0"/>
<rect x="911" y="527" width="3" height="1" fill="#c0c0c0"/>
<rect x="917" y="527" width="3" height="1" fill="#c0c0c0"/>
<rect x="923" y="527" width="3" height="1" fill="#c0c0c0"/>
<rect x="929" y="527" width="3" height="1" fill="#c0c0c0"/>
<rect x="935" y="527" width="3" height="1" fill="#c0c0c0"/>
<rect x="941" y="527" width="3" height="1" fill="#c0c0c0"/>
<rect x="947" y="527" width="3" height="1" fill="#c0c0c0"/>
<rect x="953" y="527" width="3" height="1" fill="#c0c0c0"/>
<rect x="959" y="527" width="3" height="1" fill="#c0c0c0"/>
<rect x="965" y="527" width="3" height="1" fill="#c0c0c0"/>
<rect x="971" y="527" width="3" height="1" fill="#c0c0c0"/>
<rect x="977" y="527" width="3" height="1" fill="#c0c0c0"/>
<rect x="983" y="527" width="3" height="1" fill="#c0c0c0"/>
<rect x="989" y="527" width="3" height="1" fill="#c0c0c0"/>
<rect x="995" y="527" width="3" height="1" fill="#c0c0c0"/>
<rect x="1001" y="527" width="3" height="1" fill="#c0c0c0"/>
<rect x="1007" y="527" width="3" height="1" fill="#c0c0c0"/>
<rect x="1013" y="527" width="3" height="1" fill="#c0c0c0"/>
<rect x="1019" y="527" width="3" height="1" fill="#c0c0c0"/>
<rect x="1025" y="527" width="3" height="1" fill="#c0c0c0"/>
<rect x="1031" y="527" width="3" height="1" fill="#c0c0c0"/>
<rect x="1037" y="527" width="3" height="1" fill="#c0c0c0"/>
<rect x="1043" y="527" width="3" height="1" fill="#c0c0c0"/>
<rect x="1049" y="527" width="3" height="1" fill="#c0c0c0"/>
<rect x="1055" y="527" width="3" height="1" fill="#c0c0c0"/>
<rect x="1061" y="527" width="3" height="1" fill="#c0c0c0"/>
<rect x="1067" y="527" width="3" height="1" fill="#c0c0c0"/>
<rect x="1073" y="527" width="3" height="1" fill="#c0c0c0"/>
<rect x="1079" y="527" width="3" height="1" fill="#c0c0c0"/>
<rect x="1085" y="527" width="3" height="1" fill="#c0c0c0"/>
<rect x="1091" y="527" width="3" height="1" fill="#c0c0c0"/>
<rect x="1097" y="527" width="3" height="1" fill="#c0c0c0"/>
<rect x="1103" y="527" width="3" height="1" fill="#c0c0c0"/>
<rect x="1109" y="527" width="3" height="1" fill="#c0c0c0"/>
<rect x="1115" y="527" width="3" height="1" fill="#c0c0c0"/>
<rect x="1121" y="527" width="3" height="1" fill="#c0c0c0"/>
<rect x="1127" y="527" width="3" height="1" fill="#c0c0c0"/>
<rect x="1133" y="527" width="3" height="1" fill="#c0c0c0"/>
<rect x="1139" y="527" width="3" height="1" fill="#c0c0c0"/>
<rect x="1145" y="527" width="3" height="1" fill="#c0c0c0"/>
<rect x="1151" y="527" width="3" height="1" fill="#c0c0c0"/>
<rect x="1157" y="527" width="3" height="1" fill="#c0c0c0"/>
<rect x="1163" y="527" width="3" height="1" fill="#c0c0c0"/>
<rect x="1167" y="479" width="1" height="1" fill="#000"/>
<rect x="1167" y="548" width="1" height="1" fill="#000"/>
</g>
<g clip-path="url(#crsi)" shape-rendering="crispEdges"><polyline fill="none" stroke="#1e90ff" stroke-width="1" points="3.7,521.6 10.0,521.8 13.7,522.3 16.2,524.1 19.9,518.6 23.6,517.4 26.1,515.6 29.9,512.9 37.3,512.6 41.0,513.6 44.3,514.9 48.5,507.4 52.2,509.9 56.7,513.1 60.9,511.1 67.2,509.4 72.1,504.9 76.4,501.2 79.6,506.2 84.6,510.4 88.8,513.4 92.0,511.6 99.5,511.4 103.2,513.1 107.0,510.9 114.4,510.4 116.9,510.4 121.9,507.9 126.9,505.4 131.8,504.9 137.6,500.4 141.8,501.9 145.5,503.9 149.3,503.7 153.0,506.4 156.7,509.7 161.7,507.9 166.7,507.7 171.6,509.4 175.4,511.1 179.1,511.9 184.1,514.1 189.1,515.4 192.8,518.6 196.5,520.1 200.2,521.3 204.0,521.1 207.7,522.3 211.4,525.1 216.4,522.3 220.1,523.6 223.9,526.1 228.9,522.3 232.6,523.1 236.3,520.3 240.0,518.6 242.5,521.1 246.3,526.1 248.8,529.8 252.5,528.3 256.2,526.1 260.0,519.9 263.7,520.6 267.4,521.6 271.1,521.8 274.9,523.6 281.1,520.3 284.8,520.8 288.6,520.3 292.3,524.1 300.0,527.8 305.0,529.1 308.7,530.8 312.4,528.6 317.4,525.3 321.1,524.1 324.9,520.6 332.3,522.1 337.3,518.6 343.5,521.1 347.2,519.4 352.2,515.6 357.2,514.9 360.9,507.9 365.9,504.9 370.9,503.7 377.1,501.2 380.8,501.7 384.6,504.2 389.5,507.4 394.5,507.2 399.5,505.7 404.5,504.7 409.4,506.2 413.2,508.2 416.9,504.4 420.6,506.4 424.4,502.4 429.3,505.4 434.3,507.4 436.8,506.7 440.5,512.4 444.3,512.4 448.0,510.4 451.7,504.4 455.4,508.7 459.2,513.6 464.2,511.4 469.1,511.4 472.9,509.4 476.6,501.2 480.3,509.9 484.6,515.6 489.0,515.1 502.7,515.4 506.4,512.4 511.4,510.4 516.4,510.6 520.1,512.4 526.3,512.9 530.1,513.6 532.6,513.4 536.3,508.2 540.0,510.4 543.8,507.9 547.5,507.4 551.2,512.4 556.2,516.1 559.9,516.1 564.9,512.9 568.6,518.1 572.4,516.6 577.3,519.4 582.3,520.3 586.0,520.3 588.5,522.8 597.3,515.5 603.1,517.6 608.9,519.9 614.7,520.5 620.5,524.0 624.8,516.1 629.2,510.3 635.0,507.4 640.8,511.8 646.6,513.2 652.4,513.8 659.6,509.7 664.0,516.7 668.4,520.5 672.7,516.7 678.5,516.1 681.4,514.7 688.7,517.6 693.0,513.2 697.4,514.7 700.3,519.9 706.1,518.1 710.4,519.0 716.2,527.7 722.0,524.0 727.8,525.4 735.1,526.0 739.4,521.3 743.8,521.9 748.2,517.6 754.0,519.0 759.8,519.0 764.1,518.4 768.5,519.0 774.3,519.9 780.1,516.7 784.4,518.1 788.8,519.9 796.0,518.4 800.4,520.8 804.7,519.6 809.1,517.0 813.4,516.7 819.3,515.0 823.6,516.1 828.0,513.8 832.3,517.6 836.7,521.9 842.5,521.1 848.3,519.9 854.1,519.9 859.9,527.1 864.2,516.1 868.6,515.5 875.8,517.6 883.1,514.7 888.9,512.3 894.7,514.7 902.0,515.5 909.2,516.7 916.5,517.0 920.8,519.0 923.7,518.4"/></g>
<text x="8.4" y="489.8" font-size="9.6" fill="#000" textLength="67" lengthAdjust="spacingAndGlyphs" stroke="#000" stroke-width="0.08">RSI(14) 43.1037</text>
<text x="1170" y="487.7" font-size="9.4" fill="#000" textLength="14.6" lengthAdjust="spacingAndGlyphs" stroke="#000" stroke-width="0.08">100</text>
<text x="1169.7" y="502.7" font-size="9.4" fill="#000" textLength="9.6" lengthAdjust="spacingAndGlyphs" stroke="#000" stroke-width="0.08">70</text>
<text x="1169.7" y="531" font-size="9.4" fill="#000" textLength="9.6" lengthAdjust="spacingAndGlyphs" stroke="#000" stroke-width="0.08">30</text>
<text x="1169.9" y="545.9" font-size="9.8" fill="#000" textLength="5" lengthAdjust="spacingAndGlyphs" stroke="#000" stroke-width="0.08">0</text>
<g shape-rendering="crispEdges">
<rect x="4" y="550" width="1" height="3" fill="#000"/>
<rect x="68" y="550" width="1" height="3" fill="#000"/>
<rect x="132" y="550" width="1" height="3" fill="#000"/>
<rect x="196" y="550" width="1" height="3" fill="#000"/>
<rect x="260" y="550" width="1" height="3" fill="#000"/>
<rect x="324" y="550" width="1" height="3" fill="#000"/>
<rect x="388" y="550" width="1" height="3" fill="#000"/>
<rect x="452" y="550" width="1" height="3" fill="#000"/>
<rect x="516" y="550" width="1" height="3" fill="#000"/>
<rect x="580" y="550" width="1" height="3" fill="#000"/>
<rect x="644" y="550" width="1" height="3" fill="#000"/>
<rect x="708" y="550" width="1" height="3" fill="#000"/>
<rect x="772" y="550" width="1" height="3" fill="#000"/>
<rect x="836" y="550" width="1" height="3" fill="#000"/>
<rect x="900" y="550" width="1" height="3" fill="#000"/>
</g>
<text x="4" y="561.7" font-size="9" fill="#000" stroke="#000" stroke-width="0.2">10 Feb 2021</text>
<text x="68" y="561.7" font-size="9" fill="#000" stroke="#000" stroke-width="0.2">4 Mar 2021</text>
<text x="132" y="561.7" font-size="9" fill="#000" stroke="#000" stroke-width="0.2">26 Mar 2021</text>
<text x="196" y="561.7" font-size="9" fill="#000" stroke="#000" stroke-width="0.2">20 Apr 2021</text>
<text x="260" y="561.7" font-size="9" fill="#000" stroke="#000" stroke-width="0.2">12 May 2021</text>
<text x="324" y="561.7" font-size="9" fill="#000" stroke="#000" stroke-width="0.2">3 Jun 2021</text>
<text x="388" y="561.7" font-size="9" fill="#000" stroke="#000" stroke-width="0.2">25 Jun 2021</text>
<text x="452" y="561.7" font-size="9" fill="#000" stroke="#000" stroke-width="0.2">19 Jul 2021</text>
<text x="516" y="561.7" font-size="9" fill="#000" stroke="#000" stroke-width="0.2">10 Aug 2021</text>
<text x="580" y="561.7" font-size="9" fill="#000" stroke="#000" stroke-width="0.2">1 Sep 2021</text>
<text x="644" y="561.7" font-size="9" fill="#000" stroke="#000" stroke-width="0.2">23 Sep 2021</text>
<text x="708" y="561.7" font-size="9" fill="#000" stroke="#000" stroke-width="0.2">15 Oct 2021</text>
<text x="772" y="561.7" font-size="9" fill="#000" stroke="#000" stroke-width="0.2">8 Nov 2021</text>
<text x="836" y="561.7" font-size="9" fill="#000" stroke="#000" stroke-width="0.2">30 Nov 2021</text>
<text x="900" y="561.7" font-size="9" fill="#000" stroke="#000" stroke-width="0.2">22 Dec 2021</text>
<g shape-rendering="crispEdges">
<rect x="525" y="572" width="112" height="19" fill="#ffffff"/>
<rect x="525" y="573" width="1" height="18" fill="#000"/>
<rect x="636" y="573" width="1" height="18" fill="#000"/>
<rect x="525" y="590" width="112" height="1" fill="#000"/>
<rect x="105" y="575" width="1" height="14" fill="#404040"/>
<rect x="213" y="575" width="1" height="14" fill="#404040"/>
<rect x="321" y="575" width="1" height="14" fill="#404040"/>
<rect x="417" y="575" width="1" height="14" fill="#404040"/>
<rect x="745" y="575" width="1" height="14" fill="#404040"/>
<rect x="849" y="575" width="1" height="14" fill="#404040"/>
<rect x="937" y="575" width="1" height="14" fill="#404040"/>
<rect x="1021" y="575" width="1" height="14" fill="#404040"/>
</g>
<text x="16.4" y="586.6" font-size="12" fill="#6d6d6d" textLength="77" lengthAdjust="spacingAndGlyphs">USDX,Weekly</text>
<text x="116.2" y="586.6" font-size="12" fill="#6d6d6d" textLength="84.6" lengthAdjust="spacingAndGlyphs">EURUSD-,Daily</text>
<text x="223.3" y="586.6" font-size="12" fill="#6d6d6d" textLength="86.5" lengthAdjust="spacingAndGlyphs">AUDUSD-,Daily</text>
<text x="333.2" y="586.6" font-size="12" fill="#6d6d6d" textLength="71.6" lengthAdjust="spacingAndGlyphs">USDCHF-,H4</text>
<text x="428.6" y="586.6" font-size="12" fill="#6d6d6d" textLength="84.9" lengthAdjust="spacingAndGlyphs">USDCAD-,Daily</text>
<text x="647.9" y="586.6" font-size="12" fill="#6d6d6d" textLength="86.1" lengthAdjust="spacingAndGlyphs">XAUUSD-,Daily</text>
<text x="755.3" y="586.6" font-size="12" fill="#6d6d6d" textLength="82.7" lengthAdjust="spacingAndGlyphs">UKOil-,Weekly</text>
<text x="861.4" y="586.6" font-size="12" fill="#6d6d6d" textLength="63.6" lengthAdjust="spacingAndGlyphs">DJ30-,Daily</text>
<text x="948.2" y="586.6" font-size="12" fill="#6d6d6d" textLength="61.4" lengthAdjust="spacingAndGlyphs">UK100-,H1</text>
<text x="538" y="586.6" font-size="12" fill="#000" textLength="87.5" lengthAdjust="spacingAndGlyphs">USDCNH-,Daily</text>
<polygon points="1185,578 1185,584 1182,581" fill="#a0a0a0"/>
<polygon points="1201,578 1201,584 1204,581" fill="#a0a0a0"/>
</svg></body></html>
